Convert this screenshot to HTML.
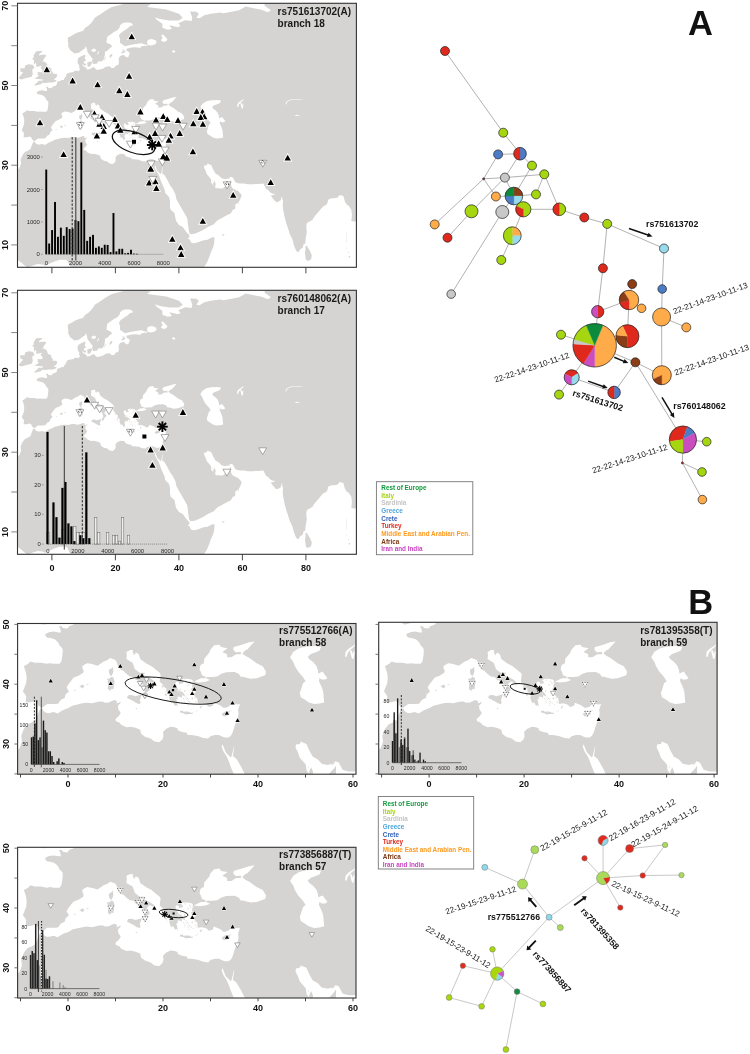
<!DOCTYPE html><html><head><meta charset="utf-8"><style>html,body{margin:0;padding:0;background:#fff}svg{display:block;will-change:transform}text{font-family:"Liberation Sans",sans-serif}</style></head><body>
<svg width="750" height="1054" viewBox="0 0 750 1054">
<rect width="750" height="1054" fill="#fff"/>
<defs><g id="land"><path d="M-7.6 4.3 -8.6 4.8 -9.6 5.5 -10.8 6.3 -11.5 6.9 -12.5 7.4 -13 8 -13.3 8.5 -13.2 9.2 -13.8 9.8 -14.6 10.5 -15.1 11 -15.9 11.6 -16.7 12.3 -16.8 13.4 -17 14.2 -17.5 14.7 -16.9 15.3 -16.5 16.2 -16.1 17.5 -16.1 18.6 -16.5 19.4 -16.2 20.2 -17.05 20.8 -17 21.5 -16.3 23 -15.8 23.9 -14.9 24.7 -14.5 26 -13.6 26.9 -12.9 27.9 -11.5 28.3 -10.2 29.3 -9.7 30.4 -9.85 31.4 -9.3 32.5 -8.5 33.3 -7.6 33.6 -6.8 34 -6.3 35 -5.9 35.8 -5.3 35.9 -5.2 35.5 -4.5 35.2 -3.9 35.2 -3 35.35 -2.2 35.1 -1.2 35.6 -0.6 35.8 0.1 36 0.9 36.4 2 36.6 3 36.8 4 36.9 5.1 36.8 6.3 37.05 7.2 37.1 7.8 36.9 8.6 36.95 9.7 37.35 10.3 37.2 10.25 36.8 10.6 36.85 11.1 37.1 11 36.8 10.5 36.4 10.6 35.8 11.1 35.2 10.7 34.7 10 34.2 10.1 33.8 10.8 33.6 11.2 33.2 12.3 32.8 13.2 32.9 14.2 32.7 15.2 32.4 15.4 31.7 16.2 31.2 17.4 30.9 18.2 30.4 19.2 30.3 19.9 30.8 20.1 31.3 20 32 20.6 32.5 21.6 32.9 22.5 32.8 23.1 32.6 23.1 32.3 24 32 25 31.9 25.2 31.5 26 31.5 27.3 31.35 28.5 31 29.5 30.9 30 31.3 30.9 31.5 31.8 31.5 32.3 31.3 33 31.1 33.8 31.1 34.3 31.4 34.7 32 35 32.8 35.2 33.3 35.5 33.9 35.8 34.5 35.9 35.2 35.8 35.7 36 36.2 36.2 36.7 35.6 36.6 34.6 36.8 33.7 36.2 32.8 36 32 36.5 30.7 36.9 30.5 36.4 29.7 36.2 29.1 36.6 28.2 36.8 27.4 36.7 27.3 37 27.2 37.6 26.3 38.3 26.8 38.6 26.9 39 26.7 39.3 26.1 39.5 26.2 40 26.7 40.4 27.5 40.3 29 40.4 29.9 40.7 29.1 41 29.15 41.2 30.3 41.2 31.4 41.3 32.3 41.75 33.3 42 35.1 42.05 36 41.7 36.3 41.3 37 41.2 38.4 40.9 39.7 41 41.5 41.5 41.7 42.1 41 43 39.7 43.5 38.2 44.4 37.4 44.7 36.7 45.15 37.2 45.6 37.8 45.85 38.2 46.2 39.3 47.15 38.1 47 36.8 46.65 35.7 46.4 34.9 46.2 34.8 45.75 35.3 45.35 36.4 45.4 36.4 45 35.4 45 34.4 44.5 33.5 44.5 33.5 45 32.5 45.4 33.6 46 32.2 46.2 31.9 46.6 30.8 46.5 30 45.8 29.7 45.2 28.7 44.3 28.6 43.5 27.9 43.2 27.7 42.5 28 42 28.2 41.5 29 41.25 28.9 41 28 41 27.4 40.8 26.7 40.5 26.2 40.1 26.3 40.6 26 40.8 25.1 40.9 24.4 40.9 23.8 40.7 24.3 40.2 23.8 40.1 23.4 39.95 23.4 40.3 22.9 40.5 22.6 40.2 22.9 39.4 23.3 39.1 22.9 38.9 23.6 38.5 24 38.2 24 37.7 23.6 37.9 23 37.9 23.2 37.5 22.8 37.5 23.1 36.5 22.5 36.4 22.1 37 21.7 36.8 21.3 37.7 21.4 38.2 21.1 38.4 20.7 38.9 20.7 39.3 20.1 39.6 19.9 40 19.3 40.4 19.4 41 19.5 41.6 19.3 41.9 18.5 42.4 17.6 43 16.4 43.5 15.2 44.2 14.9 45 14.3 45.3 13.9 44.8 13.6 45.5 13.7 45.7 13.1 45.7 12.3 45.4 12.4 44.9 12.3 44.2 13.6 43.6 14.1 42.5 15.1 41.9 16.2 41.9 15.9 41.5 17 41.1 18 40.6 18.5 40.1 18.35 39.8 17.9 40.2 17.2 40.5 16.6 40 16.6 39.6 17.1 39.4 17.2 39 16.6 38.7 16.5 38.3 16.1 37.9 15.65 38 15.8 38.5 16.2 38.8 16.1 39.3 15.7 40 15 40.2 14.8 40.6 14.3 40.7 13.8 41.2 13 41.3 12.2 41.8 11.7 42.2 11.1 42.4 10.5 43 10.3 43.6 10 44.05 8.9 44.4 8.2 44 7.5 43.8 7 43.5 6.2 43.1 5.4 43.3 4.8 43.4 4.1 43.5 3.5 43.3 3 43 3.1 42.5 3.3 42.3 3.2 41.9 2.2 41.4 1.2 41.1 0.8 40.7 0 39.9 -0.3 39.4 0.2 38.8 -0.5 38.3 -0.7 37.7 -1.5 37.4 -2.1 36.75 -2.9 36.7 -4.4 36.7 -5.3 36.15 -5.6 36 -6.3 36.5 -6.4 36.9 -7 37.2 -7.9 37 -8.9 37 -8.8 38 -9.2 38.5 -9.5 38.8 -9.2 39.4 -8.8 40.2 -8.7 41.2 -8.9 42.1 -9.3 43 -8.4 43.4 -7.9 43.8 -7 43.6 -5.7 43.6 -4.5 43.4 -3.8 43.5 -3 43.4 -1.8 43.4 -1.4 43.8 -1.2 44.7 -1.1 45.6 -1.2 46 -1.8 46.5 -2.1 47 -2.5 47.3 -2.8 47.5 -3.5 47.7 -4.4 47.8 -4.7 48 -4.8 48.4 -4 48.7 -3 48.8 -2 48.65 -1.5 48.65 -1.6 49.2 -1.9 49.7 -1.3 49.7 -1.1 49.4 -0.2 49.3 0.1 49.5 0.2 49.7 1.1 49.95 1.6 50.3 1.6 50.9 2.5 51.1 3.2 51.35 3.7 51.4 4 51.9 4.5 52.4 4.7 52.95 5.4 53.2 6.9 53.4 7.1 53.7 8 53.7 8.5 53.6 8.6 53.9 8.9 54.1 8.6 54.4 8.6 55.1 8.1 55.6 8.1 56.6 8.6 57.1 9.9 57.6 10.6 57.7 10.5 57.2 10.3 56.7 10.9 56.4 10.2 56.1 10 55.5 9.5 55.2 9.9 54.8 10.9 54.4 11 54 12.1 54.15 12.5 54.45 13.4 54.6 13.8 54.1 14.3 53.9 16 54.2 17 54.7 18.3 54.8 18.7 54.4 19.6 54.4 20 54.9 21 55.3 21.1 56 21 56.8 21.5 57.4 22.6 57.7 23.2 57.2 24 57 24.4 57.8 24.5 58.3 23.5 58.7 23.5 59.2 24.7 59.5 26 59.6 28 59.5 28.1 59.8 29.1 60 30.2 59.9 29.7 60.2 28.6 60.5 28.3 60.6 27 60.5 25 60.2 23 59.85 22 60.4 21.4 60.8 21.5 61.6 21.1 62.5 21.6 63.1 22.8 63.8 24 64.4 24.6 64.9 25.4 65 25.4 65.5 24.5 65.8 23 65.8 22.2 65.6 21.5 65.1 21.3 64.5 20.5 63.8 19.5 63.4 18.5 62.8 17.5 62.3 17.3 61.6 17.2 60.7 18.5 60.3 19 59.8 18.1 59.3 17.5 58.7 16.7 58.5 16.7 57.7 16.4 56.7 15.9 56.1 14.5 56 14.3 55.5 13 55.4 12.9 55.6 12.6 56.2 12.9 56.6 12 57.5 11.2 58.4 11.1 59 10.7 59.9 10.4 59.3 9.7 58.95 8.5 58.2 7.1 58 5.7 58.9 5.1 59.9 5.2 60.5 5 61.2 5 62 6.2 62.5 7.5 63.1 8.8 63.5 9.8 63.7 10.4 64.4 11.5 65 12.3 65.6 13 66.3 13.5 67 14.5 67.5 15.5 68 16.5 68.6 17.5 69.1 18.9 69.7 20.5 70 22 70.3 23.7 70.7 25.8 71.1 28 71 31 70.3 30 69.7 33 69.4 36 69.1 40 68 41.2 67 40 66.3 37 66.3 34 66.7 32.4 67.1 33 66.5 34.8 65.5 34.8 64.5 36.5 64 37.8 64.2 37 65.1 39.8 64.6 40.5 65 39.8 65.6 42 66.4 44 66.2 44.2 67 43.8 68 43.5 68.6 45.5 68.5 46.3 68 45.5 67 46.5 66.9 48 67.6 50 68 53 68.3 54 68.1 57 68.6 59 68.9 60.5 69.6 61 69.8 64 69.3 66 69 68 68.4 69 68.9 67 70 67 72 100 72 100 13 98.5 10 98.6 12 98.1 14 97.6 16.5 96.9 17.3 96.2 16.4 95.4 15.8 94.3 16 94.5 17.5 94.3 18.8 93.5 19.8 92.9 20.1 92.3 20.8 91.8 22.3 90.6 22.5 90 21.9 89 21.7 88 21.7 87 21.3 86.8 20.5 86.4 20 85.5 19.7 84.9 19.2 84 18.3 83.3 17.7 82.3 16.7 82.2 16.4 81.2 15.9 80.3 15.5 80.1 14.5 80.3 13.2 80 12 79.85 11 79.8 10.3 79.3 10.2 79 9.3 78.2 8.9 77.55 8.08 76.9 8.6 76.2 10 75.8 11.3 74.9 12.8 74.1 14.8 73.8 15.5 73.3 17 72.8 19 72.7 20 72.8 21.1 72.5 21.7 72.6 22.3 72.2 21.8 72.1 21.2 71 20.7 70.4 20.9 69.2 22 69 22.4 70 22.6 70.3 22.95 69.7 22.8 68.7 23.2 68.2 23.7 67.5 24 67 24.8 66.6 25.4 65 25.3 63.5 25.25 61.6 25.2 60.6 25.4 59 25.4 57.8 25.7 57 26.9 56.3 27.1 55.5 26.7 54.7 26.5 53.4 26.7 52.6 27.4 51.5 27.9 50.8 28.9 50.2 30 49 30.4 48.8 30 48 29.9 47.9 29.4 48.4 28.6 48.8 27.7 49.7 26.9 50.1 26.5 50.2 25.6 50.6 25.2 50.8 24.8 50.8 25.5 51.2 26.1 51.6 25.3 51.4 24.6 51.6 24.2 52.6 24.2 53.6 24.1 54.4 24.5 55.3 25.3 56.1 26 56.3 26.3 56.45 26.3 56.4 25 56.8 24.3 58 23.7 58.6 23.6 59.8 22.5 59.3 21.4 58.7 20.6 57.8 20.2 57.7 19 57 18.8 56.3 17.9 55.2 17.5 54.1 17 52.2 16.2 51 15.2 49.1 14.5 47.5 13.7 45 12.8 43.5 12.65 43.2 13.3 42.9 14.8 42.7 16.3 42.5 16.9 41.2 18.7 40 20.3 39.2 21.5 38.9 22.7 38 24.1 37.2 25 36.5 26.1 35.5 27.5 34.7 28 35 29.5 34.9 29.5 34.45 28 34.25 27.75 33.6 28.3 33.2 28.6 32.65 29.7 32.55 29.95 32.35 29.6 32.7 28.8 33.5 27.8 33.8 27.2 34.3 26.1 35 24.8 35.5 23.9 35.7 23 36.9 22 37.2 21 37.2 19.6 37.4 18.8 38.6 18 39.1 16 39.5 15.6 40 15 41.2 14.5 42.4 13.2 43 12.7 43.3 12.4 43.3 11.9 42.7 11.55 43.25 11.5 44 10.45 45 10.4 46.5 10.8 47.5 11.1 49 11.3 50.5 11.9 51.25 11.85 51.1 10.4 50.8 9.4 50 8 49.6 7 48.8 5.5 48 4.5 47 3.3 46 2.4 45.3 2 44 1 42.5 -0.3 42 -2 10 -2 9.7 3.5 8.5 4.5 7.2 4.4 6 4.3 5.4 5.1 4.9 6 4.3 6.3 2.5 6.3 1 5.9 -0.5 5.4 -2.1 4.75 -3 5.1 -4.5 5.2 -6 4.85ZM46.76 44.52 47.44 45.41 48.67 46.03 50.25 46.3 52.04 46.39 53.28 46.21 52.94 45.59 52.04 45.32 51.14 45.05 50.47 44.6 50.81 44.16 51.59 43.71 52.27 43.09 52.6 42.37 52.72 41.75 53.05 41.93 53.61 42.11 54.06 41.57 54.62 41.04 54.18 40.77 53.39 40.77 52.94 41.04 52.83 40.5 53.16 39.97 53.5 39.34 53.73 38.72 53.84 37.65 53.95 36.93 52.94 36.76 51.82 36.67 50.69 36.93 49.91 37.38 49.01 37.83 48.79 38.54 49.12 39.25 49.46 40.14 50.02 40.5 49.46 41.22 48.45 42.11 47.78 43 47.44 43.71ZM58.33 44.6 58.44 45.41 59 45.89 60.13 46.48 60.35 46.66 60.35 46.39 59.45 45.76 58.89 45.23 58.67 44.6ZM59.34 45.59 59.68 45.67 60.01 44.96 60.13 45.5 60.35 45.41 60.13 44.25 59.79 44.25ZM30 60.3 30.9 60.05 32 60.15 32.9 60.6 32.9 61.2 31.5 61.7 30.3 61.5 30 61ZM34.3 61.3 35.2 60.9 36 61.1 36.4 61.6 35.6 62.3 35 62.8 34.4 62.6 34.9 62ZM37.8 58.4 38.6 58.2 38.9 58.6 38.2 58.9ZM73.5 45.3 74 46.05 75.5 46.6 77 46.55 78.5 46.6 79.2 46.4 78.5 46.48 77 46.43 75.6 46.47 74.2 45.95 73.75 45.25ZM76.3 42.45 77.2 42.65 78.2 42.55 77.3 42.35ZM12.4 58.9 13.2 59.3 14 59 13.6 58.5 12.7 58.5ZM14.2 57.8 14.6 58.6 14.9 58.5 14.4 57.8Z" fill="#d5d4d2" fill-rule="evenodd"/><path d="M24.37 38.85 24.55 38.99 24.73 38.85 24.55 38.71ZM24.99 37.6 25.15 37.72 25.31 37.6 25.15 37.48ZM25.28 37.45 25.4 37.54 25.52 37.45 25.4 37.36ZM24.78 37.45 24.9 37.54 25.02 37.45 24.9 37.36ZM24.22 37.62 24.35 37.72 24.48 37.62 24.35 37.52ZM24.3 37.4 24.42 37.49 24.54 37.4 24.42 37.31ZM24.4 37.16 24.5 37.24 24.6 37.16 24.5 37.08ZM24.58 36.97 24.7 37.06 24.82 36.97 24.7 36.88ZM25.17 36.72 25.3 36.82 25.43 36.72 25.3 36.62ZM25.31 36.4 25.43 36.49 25.55 36.4 25.43 36.31ZM25.74 36.83 25.9 36.95 26.06 36.83 25.9 36.71ZM25.94 37.6 26.15 37.76 26.36 37.6 26.15 37.44ZM26.87 37 27 37.1 27.13 37 27 36.9ZM26.22 36.55 26.35 36.65 26.48 36.55 26.35 36.45ZM23.48 39.15 23.65 39.28 23.82 39.15 23.65 39.02ZM25.46 40.45 25.6 40.56 25.74 40.45 25.6 40.34ZM25.68 40.17 25.85 40.3 26.02 40.17 25.85 40.04ZM26.8 35.4 26.9 35.48 27 35.4 26.9 35.32ZM26.75 37.15 26.85 37.23 26.95 37.15 26.85 37.07ZM93.38 7 93.7 7.25 94.03 7 93.7 6.75ZM93.21 8.1 93.4 8.25 93.59 8.1 93.4 7.95ZM92.64 9.2 92.8 9.32 92.96 9.2 92.8 9.08ZM-5.7 50.05 -5 50 -3.5 50.3 -3 50.7 -1.9 50.6 -1 50.75 0.3 50.75 1 50.95 1.4 51.15 1.4 51.4 0.6 51.45 0.9 51.75 1.3 51.9 1.7 52.5 1.6 52.8 1 52.95 0.5 52.95 0.1 52.85 0.35 53.1 0.1 53.55 -0.2 53.7 -0.1 54.1 -0.6 54.5 -1.2 54.65 -1.4 55 -1.6 55.5 -2 55.8 -2.5 56 -3.2 56 -2.7 56.3 -2.5 56.7 -2.1 57.1 -1.8 57.5 -2 57.7 -3.4 57.7 -4.1 57.55 -4 57.9 -3.1 58.4 -3.05 58.65 -5 58.6 -5.3 58.1 -5.8 57.6 -5.7 57 -6.2 56.7 -5.6 56.3 -5.7 55.3 -5 55.7 -4.9 55 -5.1 54.8 -4.4 54.7 -3.6 54.9 -3 54.95 -3.6 54.5 -3.2 54.1 -2.9 53.75 -3.1 53.4 -3.4 53.3 -4.6 53.4 -4.3 52.9 -4.75 52.8 -4.1 52.5 -4.7 52.1 -5.3 51.9 -5.1 51.65 -4.2 51.6 -3 51.5 -2.7 51.5 -3 51.2 -4.2 51.2 -4.5 50.9 -5 50.5ZM-6.4 52.2 -6 52.9 -6.1 53.3 -6.2 54 -5.5 54.4 -5.7 54.8 -6.1 55.2 -7.3 55.35 -8.3 55.1 -8.6 54.6 -8.5 54.3 -10 54.3 -9.9 53.5 -9 53.2 -9.5 52.9 -9.9 52.4 -10.4 52.1 -10.2 51.7 -9.6 51.5 -8.3 51.8 -7 52.1ZM11.1 55.7 11.8 55.95 12.6 56.05 12.6 55.6 12.3 55.2 12 54.7 11.2 54.75 11.2 55.3ZM9.8 55.5 10.4 55.6 10.8 55.3 10.7 55.05 10.1 55.05 9.8 55.2ZM18.15 57 18.2 57.5 18.9 57.95 19.1 57.8 18.8 57.3 18.4 56.95ZM16.4 56.2 16.6 56.8 17.1 57.35 16.9 56.8ZM21.85 58.3 22.1 58.5 22.6 58.65 23.3 58.6 22.9 58.3 22.6 58.2 22.1 58 22 57.95ZM22.1 58.9 22.6 59.1 23.05 58.85 22.6 58.7ZM2.35 39.6 3.1 39.95 3.45 39.7 3.1 39.3 2.7 39.5ZM3.8 40 4.3 40 4.3 39.85 3.85 39.9ZM1.2 38.95 1.55 39.1 1.6 38.95 1.35 38.85ZM8.6 42.4 9.3 42.7 9.4 43 9.5 42.6 9.55 42.1 9.3 41.6 9.2 41.37 8.8 41.55 8.6 42ZM8.15 40.9 8.4 40.6 8.45 39.9 8.4 39.2 8.85 38.88 9.1 39.2 9.55 39.15 9.7 39.9 9.8 40.5 9.55 41.1 9.2 41.25 8.6 40.9 8.3 40.95ZM12.43 37.8 12.7 38.15 13.35 38.2 14.2 38 15.55 38.3 15.25 37.6 15.1 37.3 15.3 37 15.1 36.65 14.5 36.8 13.9 37.1 13 37.5 12.6 37.6ZM14.2 36.05 14.5 36 14.55 35.82 14.35 35.85ZM23.55 35.6 23.6 35.25 24.3 35.15 24.75 34.93 25.5 35 26.2 35.02 26.3 35.25 25.75 35.2 25.7 35.35 25 35.42 24.3 35.38 24.1 35.6 23.75 35.5ZM32.3 35.05 32.7 34.65 33.05 34.6 33.6 34.8 34.05 35 33.95 35.3 34.58 35.68 33.7 35.4 32.95 35.4 32.6 35.15ZM27.7 36.15 28.2 36.45 28.25 36.3 27.85 35.9ZM27.1 35.45 27.2 35.85 27.25 35.5ZM23 39 23.4 38.95 24.2 38.6 24.6 38.15 24.55 37.95 24.1 38.15 23.7 38.4 23.3 38.7ZM25.85 39.2 26.2 39.4 26.6 39.3 26.55 39 26.1 39ZM25.9 38.55 26.15 38.55 26.15 38.25 25.95 38.2ZM26.6 37.8 27.05 37.78 26.95 37.65 26.6 37.68ZM26.95 36.75 27.35 36.9 27.3 36.8ZM25.05 39.85 25.45 40 25.4 39.8 25.1 39.8ZM24.55 40.75 24.75 40.78 24.75 40.6 24.6 40.6ZM25.35 37.1 25.6 37.2 25.6 36.95 25.4 36.95ZM24.7 37.98 24.95 37.85 24.95 37.7 24.75 37.85ZM25.1 37.15 25.27 37.1 25.2 36.98ZM24.35 36.75 24.55 36.75 24.5 36.65ZM22.9 36.35 23.1 36.3 23 36.13ZM20.35 38.2 20.55 38.47 20.8 38.3 20.75 38.07 20.5 38.1ZM20.63 37.85 20.95 37.75 20.85 37.65ZM19.65 39.75 19.9 39.8 20.1 39.45 19.9 39.42ZM20.55 38.83 20.72 38.83 20.7 38.6 20.55 38.6ZM79.85 9.8 80.3 9.75 81.2 8.6 81.85 7.4 81.65 6.4 80.6 5.93 80 6.3 79.7 8 79.9 9ZM53.35 12.55 54 12.7 54.5 12.55 54 12.32ZM50.45 26.2 50.65 26.2 50.6 25.85ZM55.3 26.65 56.2 27 56.25 26.9 55.7 26.55ZM92.72 10.6 92.82 10.6 92.92 12 92.88 13.4 92.8 13.4 92.82 12ZM58.6 20.2 58.95 20.65 58.8 20.2Z" fill="#d5d4d2"/></g></defs>
<clipPath id="c1"><rect x="17.5" y="3.3" width="338.9" height="264.0"/></clipPath>
<g clip-path="url(#c1)">
<use href="#land" transform="matrix(3.1750 0 0 -3.9850 51.900 284.750)"/>
</g>
<rect x="45.30" y="169.57" width="1.90" height="84.73" fill="#000"/><rect x="48.22" y="243.51" width="1.90" height="10.79" fill="#000"/><rect x="51.14" y="230.06" width="1.90" height="24.24" fill="#000"/><rect x="54.07" y="201.97" width="1.90" height="52.33" fill="#000"/><rect x="56.99" y="236.80" width="1.90" height="17.50" fill="#000"/><rect x="59.91" y="227.67" width="1.90" height="26.63" fill="#000"/><rect x="62.83" y="235.83" width="1.90" height="18.47" fill="#000"/><rect x="65.76" y="227.18" width="1.90" height="27.12" fill="#000"/><rect x="68.68" y="229.09" width="1.90" height="25.21" fill="#000"/><rect x="71.60" y="228.61" width="1.90" height="25.69" fill="#000"/><rect x="74.52" y="219.99" width="1.90" height="34.31" fill="#000"/><rect x="77.45" y="221.19" width="1.90" height="33.11" fill="#000"/><rect x="80.37" y="142.46" width="1.90" height="111.84" fill="#000"/><rect x="83.29" y="209.91" width="1.90" height="44.39" fill="#000"/><rect x="86.22" y="240.85" width="1.90" height="13.45" fill="#000"/><rect x="89.14" y="236.80" width="1.90" height="17.50" fill="#000"/><rect x="92.06" y="234.86" width="1.90" height="19.44" fill="#000"/><rect x="94.98" y="247.82" width="1.90" height="6.48" fill="#000"/><rect x="97.91" y="246.39" width="1.90" height="7.91" fill="#000"/><rect x="100.83" y="247.82" width="1.90" height="6.48" fill="#000"/><rect x="103.75" y="244.71" width="1.90" height="9.59" fill="#000"/><rect x="106.67" y="244.94" width="1.90" height="9.36" fill="#000"/><rect x="109.59" y="252.13" width="1.90" height="2.17" fill="#000"/><rect x="112.52" y="213.02" width="1.90" height="41.28" fill="#000"/><rect x="115.44" y="251.42" width="1.90" height="2.88" fill="#000"/><rect x="118.36" y="248.79" width="1.90" height="5.51" fill="#000"/><rect x="121.28" y="248.79" width="1.90" height="5.51" fill="#000"/><rect x="124.21" y="253.33" width="1.90" height="0.97" fill="#000"/><rect x="127.13" y="252.87" width="1.90" height="1.43" fill="#000"/><rect x="130.05" y="249.76" width="1.90" height="4.54" fill="#000"/><rect x="132.97" y="253.65" width="1.90" height="0.65" fill="#000"/><rect x="135.90" y="253.81" width="1.90" height="0.49" fill="#000"/><line x1="72.2" y1="137.2" x2="72.2" y2="260.5" stroke="#222" stroke-width="1.0" stroke-dasharray="2.3 1.6"/><line x1="75.8" y1="137.2" x2="75.8" y2="260.5" stroke="#444" stroke-width="1.1"/><line x1="46.3" y1="254.3" x2="163.2" y2="254.3" stroke="#555" stroke-width="0.5" stroke-dasharray="1.2 0.8"/><text x="46.3" y="265.4" font-size="5.90"  fill="#2a2a2a" text-anchor="middle" >0</text><text x="75.5" y="265.4" font-size="5.90"  fill="#2a2a2a" text-anchor="middle" >2000</text><text x="104.8" y="265.4" font-size="5.90"  fill="#2a2a2a" text-anchor="middle" >4000</text><text x="134.0" y="265.4" font-size="5.90"  fill="#2a2a2a" text-anchor="middle" >6000</text><text x="163.2" y="265.4" font-size="5.90"  fill="#2a2a2a" text-anchor="middle" >8000</text><text x="39.8" y="159.2" font-size="5.90"  fill="#2a2a2a" text-anchor="end" >3000</text><line x1="41.0" y1="157.1" x2="42.8" y2="157.1" stroke="#777" stroke-width="0.6"/><text x="39.8" y="191.6" font-size="5.90"  fill="#2a2a2a" text-anchor="end" >2000</text><line x1="41.0" y1="189.5" x2="42.8" y2="189.5" stroke="#777" stroke-width="0.6"/><text x="39.8" y="224.0" font-size="5.90"  fill="#2a2a2a" text-anchor="end" >1000</text><line x1="41.0" y1="221.9" x2="42.8" y2="221.9" stroke="#777" stroke-width="0.6"/><text x="39.8" y="256.4" font-size="5.90"  fill="#2a2a2a" text-anchor="end" >0</text><line x1="41.0" y1="254.3" x2="42.8" y2="254.3" stroke="#777" stroke-width="0.6"/>
<polygon points="40.0,119.5 36.8,125.3 43.2,125.3" fill="#fff" stroke="#fff" stroke-width="1.8" stroke-linejoin="miter"/><polygon points="40.0,119.5 36.8,125.3 43.2,125.3" fill="#000"/><polygon points="94.4,110.6 91.2,116.4 97.6,116.4" fill="#fff" stroke="#fff" stroke-width="1.8" stroke-linejoin="miter"/><polygon points="94.4,110.6 91.2,116.4 97.6,116.4" fill="#000"/><polygon points="119.3,87.4 116.1,93.2 122.5,93.2" fill="#fff" stroke="#fff" stroke-width="1.8" stroke-linejoin="miter"/><polygon points="119.3,87.4 116.1,93.2 122.5,93.2" fill="#000"/><polygon points="127.4,91.1 124.2,96.9 130.6,96.9" fill="#fff" stroke="#fff" stroke-width="1.8" stroke-linejoin="miter"/><polygon points="127.4,91.1 124.2,96.9 130.6,96.9" fill="#000"/><polygon points="80.3,103.9 77.1,109.7 83.5,109.7" fill="#fff" stroke="#fff" stroke-width="1.8" stroke-linejoin="miter"/><polygon points="80.3,103.9 77.1,109.7 83.5,109.7" fill="#000"/><polygon points="140.4,108.6 137.2,114.4 143.6,114.4" fill="#fff" stroke="#fff" stroke-width="1.8" stroke-linejoin="miter"/><polygon points="140.4,108.6 137.2,114.4 143.6,114.4" fill="#000"/><polygon points="102.0,114.1 98.8,119.9 105.2,119.9" fill="#fff" stroke="#fff" stroke-width="1.8" stroke-linejoin="miter"/><polygon points="102.0,114.1 98.8,119.9 105.2,119.9" fill="#000"/><polygon points="114.8,116.2 111.6,122.0 118.0,122.0" fill="#fff" stroke="#fff" stroke-width="1.8" stroke-linejoin="miter"/><polygon points="114.8,116.2 111.6,122.0 118.0,122.0" fill="#000"/><polygon points="118.0,122.6 114.8,128.4 121.2,128.4" fill="#fff" stroke="#fff" stroke-width="1.8" stroke-linejoin="miter"/><polygon points="118.0,122.6 114.8,128.4 121.2,128.4" fill="#000"/><polygon points="120.4,126.9 117.2,132.7 123.6,132.7" fill="#fff" stroke="#fff" stroke-width="1.8" stroke-linejoin="miter"/><polygon points="120.4,126.9 117.2,132.7 123.6,132.7" fill="#000"/><polygon points="103.7,123.1 100.5,128.9 106.9,128.9" fill="#fff" stroke="#fff" stroke-width="1.8" stroke-linejoin="miter"/><polygon points="103.7,123.1 100.5,128.9 106.9,128.9" fill="#000"/><polygon points="103.7,128.0 100.5,133.8 106.9,133.8" fill="#fff" stroke="#fff" stroke-width="1.8" stroke-linejoin="miter"/><polygon points="103.7,128.0 100.5,133.8 106.9,133.8" fill="#000"/><polygon points="96.9,132.7 93.7,138.5 100.1,138.5" fill="#fff" stroke="#fff" stroke-width="1.8" stroke-linejoin="miter"/><polygon points="96.9,132.7 93.7,138.5 100.1,138.5" fill="#000"/><polygon points="99.5,120.9 96.3,126.7 102.7,126.7" fill="#fff" stroke="#fff" stroke-width="1.8" stroke-linejoin="miter"/><polygon points="99.5,120.9 96.3,126.7 102.7,126.7" fill="#000"/><polygon points="134.7,128.4 131.5,134.2 137.9,134.2" fill="#fff" stroke="#fff" stroke-width="1.8" stroke-linejoin="miter"/><polygon points="134.7,128.4 131.5,134.2 137.9,134.2" fill="#000"/><polygon points="156.0,116.7 152.8,122.5 159.2,122.5" fill="#fff" stroke="#fff" stroke-width="1.8" stroke-linejoin="miter"/><polygon points="156.0,116.7 152.8,122.5 159.2,122.5" fill="#000"/><polygon points="163.3,113.3 160.1,119.1 166.5,119.1" fill="#fff" stroke="#fff" stroke-width="1.8" stroke-linejoin="miter"/><polygon points="163.3,113.3 160.1,119.1 166.5,119.1" fill="#000"/><polygon points="167.3,116.2 164.1,122.0 170.5,122.0" fill="#fff" stroke="#fff" stroke-width="1.8" stroke-linejoin="miter"/><polygon points="167.3,116.2 164.1,122.0 170.5,122.0" fill="#000"/><polygon points="178.0,117.3 174.8,123.1 181.2,123.1" fill="#fff" stroke="#fff" stroke-width="1.8" stroke-linejoin="miter"/><polygon points="178.0,117.3 174.8,123.1 181.2,123.1" fill="#000"/><polygon points="196.7,108.1 193.5,113.9 199.9,113.9" fill="#fff" stroke="#fff" stroke-width="1.8" stroke-linejoin="miter"/><polygon points="196.7,108.1 193.5,113.9 199.9,113.9" fill="#000"/><polygon points="202.5,108.8 199.3,114.6 205.7,114.6" fill="#fff" stroke="#fff" stroke-width="1.8" stroke-linejoin="miter"/><polygon points="202.5,108.8 199.3,114.6 205.7,114.6" fill="#000"/><polygon points="204.2,113.5 201.0,119.3 207.4,119.3" fill="#fff" stroke="#fff" stroke-width="1.8" stroke-linejoin="miter"/><polygon points="204.2,113.5 201.0,119.3 207.4,119.3" fill="#000"/><polygon points="200.8,114.1 197.6,119.9 204.0,119.9" fill="#fff" stroke="#fff" stroke-width="1.8" stroke-linejoin="miter"/><polygon points="200.8,114.1 197.6,119.9 204.0,119.9" fill="#000"/><polygon points="193.3,120.5 190.1,126.3 196.5,126.3" fill="#fff" stroke="#fff" stroke-width="1.8" stroke-linejoin="miter"/><polygon points="193.3,120.5 190.1,126.3 196.5,126.3" fill="#000"/><polygon points="202.9,120.9 199.7,126.7 206.1,126.7" fill="#fff" stroke="#fff" stroke-width="1.8" stroke-linejoin="miter"/><polygon points="202.9,120.9 199.7,126.7 206.1,126.7" fill="#000"/><polygon points="179.7,130.1 176.5,135.9 182.9,135.9" fill="#fff" stroke="#fff" stroke-width="1.8" stroke-linejoin="miter"/><polygon points="179.7,130.1 176.5,135.9 182.9,135.9" fill="#000"/><polygon points="155.1,130.1 151.9,135.9 158.3,135.9" fill="#fff" stroke="#fff" stroke-width="1.8" stroke-linejoin="miter"/><polygon points="155.1,130.1 151.9,135.9 158.3,135.9" fill="#000"/><polygon points="149.6,133.7 146.4,139.5 152.8,139.5" fill="#fff" stroke="#fff" stroke-width="1.8" stroke-linejoin="miter"/><polygon points="149.6,133.7 146.4,139.5 152.8,139.5" fill="#000"/><polygon points="170.5,132.7 167.3,138.5 173.7,138.5" fill="#fff" stroke="#fff" stroke-width="1.8" stroke-linejoin="miter"/><polygon points="170.5,132.7 167.3,138.5 173.7,138.5" fill="#000"/><polygon points="168.8,136.9 165.6,142.7 172.0,142.7" fill="#fff" stroke="#fff" stroke-width="1.8" stroke-linejoin="miter"/><polygon points="168.8,136.9 165.6,142.7 172.0,142.7" fill="#000"/><polygon points="158.6,140.6 155.4,146.4 161.8,146.4" fill="#fff" stroke="#fff" stroke-width="1.8" stroke-linejoin="miter"/><polygon points="158.6,140.6 155.4,146.4 161.8,146.4" fill="#000"/><polygon points="192.9,148.5 189.7,154.3 196.1,154.3" fill="#fff" stroke="#fff" stroke-width="1.8" stroke-linejoin="miter"/><polygon points="192.9,148.5 189.7,154.3 196.1,154.3" fill="#000"/><polygon points="63.6,151.2 60.4,157.0 66.8,157.0" fill="#fff" stroke="#fff" stroke-width="1.8" stroke-linejoin="miter"/><polygon points="63.6,151.2 60.4,157.0 66.8,157.0" fill="#000"/><polygon points="163.3,153.4 160.1,159.2 166.5,159.2" fill="#fff" stroke="#fff" stroke-width="1.8" stroke-linejoin="miter"/><polygon points="163.3,153.4 160.1,159.2 166.5,159.2" fill="#000"/><polygon points="166.7,154.6 163.5,160.4 169.9,160.4" fill="#fff" stroke="#fff" stroke-width="1.8" stroke-linejoin="miter"/><polygon points="166.7,154.6 163.5,160.4 169.9,160.4" fill="#000"/><polygon points="150.7,165.7 147.5,171.5 153.9,171.5" fill="#fff" stroke="#fff" stroke-width="1.8" stroke-linejoin="miter"/><polygon points="150.7,165.7 147.5,171.5 153.9,171.5" fill="#000"/><polygon points="149.2,179.6 146.0,185.4 152.4,185.4" fill="#fff" stroke="#fff" stroke-width="1.8" stroke-linejoin="miter"/><polygon points="149.2,179.6 146.0,185.4 152.4,185.4" fill="#000"/><polygon points="155.4,178.5 152.2,184.3 158.6,184.3" fill="#fff" stroke="#fff" stroke-width="1.8" stroke-linejoin="miter"/><polygon points="155.4,178.5 152.2,184.3 158.6,184.3" fill="#000"/><polygon points="156.4,185.1 153.2,190.9 159.6,190.9" fill="#fff" stroke="#fff" stroke-width="1.8" stroke-linejoin="miter"/><polygon points="156.4,185.1 153.2,190.9 159.6,190.9" fill="#000"/><polygon points="131.7,33.4 128.5,39.2 134.9,39.2" fill="#fff" stroke="#fff" stroke-width="1.8" stroke-linejoin="miter"/><polygon points="131.7,33.4 128.5,39.2 134.9,39.2" fill="#000"/><polygon points="46.8,66.5 43.6,72.3 50.0,72.3" fill="#fff" stroke="#fff" stroke-width="1.8" stroke-linejoin="miter"/><polygon points="46.8,66.5 43.6,72.3 50.0,72.3" fill="#000"/><polygon points="72.6,77.6 69.4,83.4 75.8,83.4" fill="#fff" stroke="#fff" stroke-width="1.8" stroke-linejoin="miter"/><polygon points="72.6,77.6 69.4,83.4 75.8,83.4" fill="#000"/><polygon points="97.6,81.4 94.4,87.2 100.8,87.2" fill="#fff" stroke="#fff" stroke-width="1.8" stroke-linejoin="miter"/><polygon points="97.6,81.4 94.4,87.2 100.8,87.2" fill="#000"/><polygon points="129.1,72.9 125.9,78.7 132.3,78.7" fill="#fff" stroke="#fff" stroke-width="1.8" stroke-linejoin="miter"/><polygon points="129.1,72.9 125.9,78.7 132.3,78.7" fill="#000"/><polygon points="287.7,154.7 284.5,160.5 290.9,160.5" fill="#fff" stroke="#fff" stroke-width="1.8" stroke-linejoin="miter"/><polygon points="287.7,154.7 284.5,160.5 290.9,160.5" fill="#000"/><polygon points="270.7,179.2 267.5,185.0 273.9,185.0" fill="#fff" stroke="#fff" stroke-width="1.8" stroke-linejoin="miter"/><polygon points="270.7,179.2 267.5,185.0 273.9,185.0" fill="#000"/><polygon points="233.2,191.9 230.0,197.7 236.4,197.7" fill="#fff" stroke="#fff" stroke-width="1.8" stroke-linejoin="miter"/><polygon points="233.2,191.9 230.0,197.7 236.4,197.7" fill="#000"/><polygon points="202.8,218.0 199.6,223.8 206.0,223.8" fill="#fff" stroke="#fff" stroke-width="1.8" stroke-linejoin="miter"/><polygon points="202.8,218.0 199.6,223.8 206.0,223.8" fill="#000"/><polygon points="172.3,236.0 169.1,241.8 175.5,241.8" fill="#fff" stroke="#fff" stroke-width="1.8" stroke-linejoin="miter"/><polygon points="172.3,236.0 169.1,241.8 175.5,241.8" fill="#000"/><polygon points="180.5,244.4 177.3,250.2 183.7,250.2" fill="#fff" stroke="#fff" stroke-width="1.8" stroke-linejoin="miter"/><polygon points="180.5,244.4 177.3,250.2 183.7,250.2" fill="#000"/><polygon points="181.2,251.1 178.0,256.9 184.4,256.9" fill="#fff" stroke="#fff" stroke-width="1.8" stroke-linejoin="miter"/><polygon points="181.2,251.1 178.0,256.9 184.4,256.9" fill="#000"/><polygon points="87.3,118.2 83.3,111.3 91.3,111.3" fill="#fff" stroke="#8a8a8a" stroke-width="0.7"/><polygon points="80.3,129.5 76.3,122.6 84.3,122.6" fill="#fff" stroke="#8a8a8a" stroke-width="0.7"/><polygon points="80.3,122.3 78.3,125.2 82.3,125.2" fill="none" stroke="#111" stroke-width="0.9" stroke-dasharray="0.8 1.36" stroke-linecap="butt"/><polygon points="95.2,121.6 91.2,114.7 99.2,114.7" fill="#fff" stroke="#8a8a8a" stroke-width="0.7"/><polygon points="99.0,125.2 95.0,118.3 103.0,118.3" fill="#fff" stroke="#8a8a8a" stroke-width="0.7"/><polygon points="109.1,127.4 105.1,120.5 113.1,120.5" fill="#fff" stroke="#8a8a8a" stroke-width="0.7"/><polygon points="135.7,133.3 131.7,126.4 139.7,126.4" fill="#fff" stroke="#8a8a8a" stroke-width="0.7"/><polygon points="156.0,130.1 152.0,123.2 160.0,123.2" fill="#fff" stroke="#8a8a8a" stroke-width="0.7"/><polygon points="162.6,131.0 158.6,124.1 166.6,124.1" fill="#fff" stroke="#8a8a8a" stroke-width="0.7"/><polygon points="183.1,130.1 179.1,123.2 187.1,123.2" fill="#fff" stroke="#8a8a8a" stroke-width="0.7"/><polygon points="162.0,142.3 158.0,135.4 166.0,135.4" fill="#fff" stroke="#8a8a8a" stroke-width="0.7"/><polygon points="130.4,148.1 126.4,141.2 134.4,141.2" fill="#fff" stroke="#8a8a8a" stroke-width="0.7"/><polygon points="165.2,154.0 161.2,147.1 169.2,147.1" fill="#fff" stroke="#8a8a8a" stroke-width="0.7"/><polygon points="162.4,165.8 158.4,158.9 166.4,158.9" fill="#fff" stroke="#8a8a8a" stroke-width="0.7"/><polygon points="151.1,167.9 147.1,161.0 155.1,161.0" fill="#fff" stroke="#8a8a8a" stroke-width="0.7"/><polygon points="152.8,183.3 148.8,176.4 156.8,176.4" fill="#fff" stroke="#8a8a8a" stroke-width="0.7"/><polygon points="262.8,167.2 258.8,160.3 266.8,160.3" fill="#fff" stroke="#8a8a8a" stroke-width="0.7"/><polygon points="262.8,160.0 260.8,162.9 264.8,162.9" fill="none" stroke="#111" stroke-width="0.9" stroke-dasharray="0.8 1.36" stroke-linecap="butt"/><polygon points="227.1,188.8 223.1,181.9 231.1,181.9" fill="#fff" stroke="#8a8a8a" stroke-width="0.7"/><polygon points="227.1,181.6 225.1,184.5 229.1,184.5" fill="none" stroke="#111" stroke-width="0.9" stroke-dasharray="0.8 1.36" stroke-linecap="butt"/><polygon points="163.3,153.4 160.1,159.2 166.5,159.2" fill="#000"/><polygon points="166.7,154.6 163.5,160.4 169.9,160.4" fill="#000"/><polygon points="150.7,165.7 147.5,171.5 153.9,171.5" fill="#000"/><polygon points="158.6,140.6 155.4,146.4 161.8,146.4" fill="#000"/><rect x="132.0" y="139.8" width="4.0" height="4.0" fill="#000"/><ellipse cx="133.6" cy="142.3" rx="22.3" ry="10.3" transform="rotate(19.5 133.6 142.3)" fill="none" stroke="#111" stroke-width="1.3"/><line x1="146.9" y1="145.0" x2="157.5" y2="145.0" stroke="#000" stroke-width="1.9"/><line x1="148.5" y1="141.3" x2="155.9" y2="148.7" stroke="#000" stroke-width="1.9"/><line x1="152.2" y1="139.7" x2="152.2" y2="150.3" stroke="#000" stroke-width="1.9"/><line x1="155.9" y1="141.3" x2="148.5" y2="148.7" stroke="#000" stroke-width="1.9"/>
<rect x="17.5" y="3.3" width="338.9" height="264.0" fill="none" stroke="#333" stroke-width="1.1"/>
<line x1="51.9" y1="267.3" x2="51.9" y2="273.3" stroke="#333" stroke-width="0.9"/>
<line x1="115.4" y1="267.3" x2="115.4" y2="273.3" stroke="#333" stroke-width="0.9"/>
<line x1="178.9" y1="267.3" x2="178.9" y2="273.3" stroke="#333" stroke-width="0.9"/>
<line x1="242.4" y1="267.3" x2="242.4" y2="273.3" stroke="#333" stroke-width="0.9"/>
<line x1="305.9" y1="267.3" x2="305.9" y2="273.3" stroke="#333" stroke-width="0.9"/>
<line x1="11.3" y1="244.9" x2="17.5" y2="244.9" stroke="#666" stroke-width="0.8"/>
<line x1="11.3" y1="205.1" x2="17.5" y2="205.1" stroke="#666" stroke-width="0.8"/>
<line x1="11.3" y1="165.2" x2="17.5" y2="165.2" stroke="#666" stroke-width="0.8"/>
<line x1="11.3" y1="125.4" x2="17.5" y2="125.4" stroke="#666" stroke-width="0.8"/>
<line x1="11.3" y1="85.5" x2="17.5" y2="85.5" stroke="#666" stroke-width="0.8"/>
<line x1="11.3" y1="45.7" x2="17.5" y2="45.7" stroke="#666" stroke-width="0.8"/>
<line x1="11.3" y1="5.8" x2="17.5" y2="5.8" stroke="#666" stroke-width="0.8"/>
<text x="8.3" y="244.9" font-size="9.00" font-weight="bold" fill="#111" text-anchor="middle" transform="rotate(-90.0 8.3 244.9)" >10</text>
<text x="8.3" y="165.2" font-size="9.00" font-weight="bold" fill="#111" text-anchor="middle" transform="rotate(-90.0 8.3 165.2)" >30</text>
<text x="8.3" y="85.5" font-size="9.00" font-weight="bold" fill="#111" text-anchor="middle" transform="rotate(-90.0 8.3 85.5)" >50</text>
<text x="8.3" y="5.8" font-size="9.00" font-weight="bold" fill="#111" text-anchor="middle" transform="rotate(-90.0 8.3 5.8)" >70</text>
<text x="277.6" y="15.2" font-size="10.00" font-weight="bold" fill="#1a1a1a" text-anchor="start" >rs751613702(A)</text>
<text x="277.6" y="27.2" font-size="10.00" font-weight="bold" fill="#1a1a1a" text-anchor="start" >branch 18</text>
<clipPath id="c2"><rect x="17.5" y="290.3" width="338.9" height="264.0"/></clipPath>
<g clip-path="url(#c2)">
<use href="#land" transform="matrix(3.1750 0 0 -3.9850 51.900 571.750)"/>
</g>
<rect x="46.80" y="532.26" width="2.30" height="11.84" fill="#eee" stroke="#666" stroke-width="0.5"/><rect x="61.74" y="529.30" width="2.30" height="14.80" fill="#eee" stroke="#666" stroke-width="0.5"/><rect x="73.69" y="526.34" width="2.30" height="17.76" fill="#eee" stroke="#666" stroke-width="0.5"/><rect x="76.67" y="532.26" width="2.30" height="11.84" fill="#eee" stroke="#666" stroke-width="0.5"/><rect x="79.66" y="532.26" width="2.30" height="11.84" fill="#eee" stroke="#666" stroke-width="0.5"/><rect x="82.65" y="532.26" width="2.30" height="11.84" fill="#eee" stroke="#666" stroke-width="0.5"/><rect x="94.60" y="517.46" width="2.30" height="26.64" fill="#eee" stroke="#666" stroke-width="0.5"/><rect x="97.59" y="532.26" width="2.30" height="11.84" fill="#eee" stroke="#666" stroke-width="0.5"/><rect x="106.55" y="532.26" width="2.30" height="11.84" fill="#eee" stroke="#666" stroke-width="0.5"/><rect x="112.52" y="535.22" width="2.30" height="8.88" fill="#eee" stroke="#666" stroke-width="0.5"/><rect x="115.51" y="535.22" width="2.30" height="8.88" fill="#eee" stroke="#666" stroke-width="0.5"/><rect x="118.50" y="541.14" width="2.30" height="2.96" fill="#eee" stroke="#666" stroke-width="0.5"/><rect x="121.49" y="517.46" width="2.30" height="26.64" fill="#eee" stroke="#666" stroke-width="0.5"/><rect x="127.46" y="535.22" width="2.30" height="8.88" fill="#eee" stroke="#666" stroke-width="0.5"/><rect x="46.40" y="431.92" width="2.20" height="112.18" fill="#000"/><rect x="52.38" y="502.36" width="2.20" height="41.74" fill="#000"/><rect x="55.36" y="517.16" width="2.20" height="26.94" fill="#000"/><rect x="58.35" y="537.59" width="2.20" height="6.51" fill="#000"/><rect x="61.34" y="487.86" width="2.20" height="56.24" fill="#000"/><rect x="64.32" y="481.94" width="2.20" height="62.16" fill="#000"/><rect x="67.31" y="523.38" width="2.20" height="20.72" fill="#000"/><rect x="70.30" y="526.34" width="2.20" height="17.76" fill="#000"/><rect x="73.29" y="541.14" width="2.20" height="2.96" fill="#000"/><rect x="79.26" y="535.22" width="2.20" height="8.88" fill="#000"/><rect x="82.25" y="538.18" width="2.20" height="5.92" fill="#000"/><rect x="85.24" y="452.34" width="2.20" height="91.76" fill="#000"/><rect x="88.22" y="538.18" width="2.20" height="5.92" fill="#000"/><line x1="64.3" y1="426" x2="64.3" y2="549.6" stroke="#222" stroke-width="0.9"/><line x1="82.3" y1="426" x2="82.3" y2="544" stroke="#222" stroke-width="1.0" stroke-dasharray="2.3 1.6"/><line x1="48.0" y1="544.1" x2="167.5" y2="544.1" stroke="#555" stroke-width="0.5" stroke-dasharray="1.2 0.8"/><text x="48.0" y="552.8" font-size="5.90"  fill="#2a2a2a" text-anchor="middle" >0</text><text x="77.9" y="552.8" font-size="5.90"  fill="#2a2a2a" text-anchor="middle" >2000</text><text x="107.8" y="552.8" font-size="5.90"  fill="#2a2a2a" text-anchor="middle" >4000</text><text x="137.6" y="552.8" font-size="5.90"  fill="#2a2a2a" text-anchor="middle" >6000</text><text x="167.5" y="552.8" font-size="5.90"  fill="#2a2a2a" text-anchor="middle" >8000</text><text x="40.8" y="457.4" font-size="5.90"  fill="#2a2a2a" text-anchor="end" >30</text><line x1="42.0" y1="455.3" x2="43.8" y2="455.3" stroke="#777" stroke-width="0.6"/><text x="40.8" y="486.9" font-size="5.90"  fill="#2a2a2a" text-anchor="end" >20</text><line x1="42.0" y1="484.8" x2="43.8" y2="484.8" stroke="#777" stroke-width="0.6"/><text x="40.8" y="516.4" font-size="5.90"  fill="#2a2a2a" text-anchor="end" >10</text><line x1="42.0" y1="514.3" x2="43.8" y2="514.3" stroke="#777" stroke-width="0.6"/><text x="40.8" y="546.2" font-size="5.90"  fill="#2a2a2a" text-anchor="end" >0</text><line x1="42.0" y1="544.1" x2="43.8" y2="544.1" stroke="#777" stroke-width="0.6"/>
<polygon points="87.0,396.7 83.8,402.5 90.2,402.5" fill="#fff" stroke="#fff" stroke-width="1.8" stroke-linejoin="miter"/><polygon points="87.0,396.7 83.8,402.5 90.2,402.5" fill="#000"/><polygon points="135.7,412.0 132.5,417.8 138.9,417.8" fill="#fff" stroke="#fff" stroke-width="1.8" stroke-linejoin="miter"/><polygon points="135.7,412.0 132.5,417.8 138.9,417.8" fill="#000"/><polygon points="182.9,409.1 179.7,414.9 186.1,414.9" fill="#fff" stroke="#fff" stroke-width="1.8" stroke-linejoin="miter"/><polygon points="182.9,409.1 179.7,414.9 186.1,414.9" fill="#000"/><polygon points="150.6,446.6 147.4,452.4 153.8,452.4" fill="#fff" stroke="#fff" stroke-width="1.8" stroke-linejoin="miter"/><polygon points="150.6,446.6 147.4,452.4 153.8,452.4" fill="#000"/><polygon points="162.7,444.6 159.5,450.4 165.9,450.4" fill="#fff" stroke="#fff" stroke-width="1.8" stroke-linejoin="miter"/><polygon points="162.7,444.6 159.5,450.4 165.9,450.4" fill="#000"/><polygon points="152.4,461.9 149.2,467.7 155.6,467.7" fill="#fff" stroke="#fff" stroke-width="1.8" stroke-linejoin="miter"/><polygon points="152.4,461.9 149.2,467.7 155.6,467.7" fill="#000"/><polygon points="79.9,416.6 75.9,409.7 83.9,409.7" fill="#fff" stroke="#8a8a8a" stroke-width="0.7"/><polygon points="79.9,409.4 77.9,412.3 81.9,412.3" fill="none" stroke="#111" stroke-width="0.9" stroke-dasharray="0.8 1.36" stroke-linecap="butt"/><polygon points="94.6,409.2 90.6,402.3 98.6,402.3" fill="#fff" stroke="#8a8a8a" stroke-width="0.7"/><polygon points="99.6,412.8 95.6,405.9 103.6,405.9" fill="#fff" stroke="#8a8a8a" stroke-width="0.7"/><polygon points="109.0,414.5 105.0,407.6 113.0,407.6" fill="#fff" stroke="#8a8a8a" stroke-width="0.7"/><polygon points="130.4,436.2 126.4,429.3 134.4,429.3" fill="#fff" stroke="#8a8a8a" stroke-width="0.7"/><polygon points="130.4,429.0 128.4,431.9 132.4,431.9" fill="none" stroke="#111" stroke-width="0.9" stroke-dasharray="0.8 1.36" stroke-linecap="butt"/><polygon points="155.6,418.0 151.6,411.1 159.6,411.1" fill="#fff" stroke="#8a8a8a" stroke-width="0.7"/><polygon points="162.4,418.0 158.4,411.1 166.4,411.1" fill="#fff" stroke="#8a8a8a" stroke-width="0.7"/><polygon points="165.0,441.5 161.0,434.6 169.0,434.6" fill="#fff" stroke="#8a8a8a" stroke-width="0.7"/><polygon points="262.7,454.7 258.7,447.8 266.7,447.8" fill="#fff" stroke="#8a8a8a" stroke-width="0.7"/><polygon points="226.9,476.1 222.9,469.2 230.9,469.2" fill="#fff" stroke="#8a8a8a" stroke-width="0.7"/><rect x="142.4" y="434.5" width="4.0" height="4.0" fill="#000"/><line x1="157.1" y1="426.7" x2="167.7" y2="426.7" stroke="#000" stroke-width="1.9"/><line x1="158.7" y1="423.0" x2="166.1" y2="430.4" stroke="#000" stroke-width="1.9"/><line x1="162.4" y1="421.4" x2="162.4" y2="432.0" stroke="#000" stroke-width="1.9"/><line x1="166.1" y1="423.0" x2="158.7" y2="430.4" stroke="#000" stroke-width="1.9"/>
<rect x="17.5" y="290.3" width="338.9" height="264.0" fill="none" stroke="#333" stroke-width="1.1"/>
<line x1="51.9" y1="554.3" x2="51.9" y2="560.3" stroke="#333" stroke-width="0.9"/>
<line x1="115.4" y1="554.3" x2="115.4" y2="560.3" stroke="#333" stroke-width="0.9"/>
<line x1="178.9" y1="554.3" x2="178.9" y2="560.3" stroke="#333" stroke-width="0.9"/>
<line x1="242.4" y1="554.3" x2="242.4" y2="560.3" stroke="#333" stroke-width="0.9"/>
<line x1="305.9" y1="554.3" x2="305.9" y2="560.3" stroke="#333" stroke-width="0.9"/>
<text x="51.9" y="570.8" font-size="9.00" font-weight="bold" fill="#111" text-anchor="middle" >0</text>
<text x="115.4" y="570.8" font-size="9.00" font-weight="bold" fill="#111" text-anchor="middle" >20</text>
<text x="178.9" y="570.8" font-size="9.00" font-weight="bold" fill="#111" text-anchor="middle" >40</text>
<text x="242.4" y="570.8" font-size="9.00" font-weight="bold" fill="#111" text-anchor="middle" >60</text>
<text x="305.9" y="570.8" font-size="9.00" font-weight="bold" fill="#111" text-anchor="middle" >80</text>
<line x1="11.3" y1="531.9" x2="17.5" y2="531.9" stroke="#666" stroke-width="0.8"/>
<line x1="11.3" y1="492.0" x2="17.5" y2="492.0" stroke="#666" stroke-width="0.8"/>
<line x1="11.3" y1="452.2" x2="17.5" y2="452.2" stroke="#666" stroke-width="0.8"/>
<line x1="11.3" y1="412.3" x2="17.5" y2="412.3" stroke="#666" stroke-width="0.8"/>
<line x1="11.3" y1="372.5" x2="17.5" y2="372.5" stroke="#666" stroke-width="0.8"/>
<line x1="11.3" y1="332.6" x2="17.5" y2="332.6" stroke="#666" stroke-width="0.8"/>
<line x1="11.3" y1="292.8" x2="17.5" y2="292.8" stroke="#666" stroke-width="0.8"/>
<text x="8.3" y="531.9" font-size="9.00" font-weight="bold" fill="#111" text-anchor="middle" transform="rotate(-90.0 8.3 531.9)" >10</text>
<text x="8.3" y="452.2" font-size="9.00" font-weight="bold" fill="#111" text-anchor="middle" transform="rotate(-90.0 8.3 452.2)" >30</text>
<text x="8.3" y="372.5" font-size="9.00" font-weight="bold" fill="#111" text-anchor="middle" transform="rotate(-90.0 8.3 372.5)" >50</text>
<text x="8.3" y="292.8" font-size="9.00" font-weight="bold" fill="#111" text-anchor="middle" transform="rotate(-90.0 8.3 292.8)" >70</text>
<text x="277.6" y="302.2" font-size="10.00" font-weight="bold" fill="#1a1a1a" text-anchor="start" >rs760148062(A)</text>
<text x="277.6" y="314.2" font-size="10.00" font-weight="bold" fill="#1a1a1a" text-anchor="start" >branch 17</text>
<clipPath id="c3"><rect x="17.6" y="623.5" width="338.4" height="150.7"/></clipPath>
<g clip-path="url(#c3)">
<use href="#land" transform="matrix(4.7500 0 0 -5.9800 68.000 923.400)"/>
</g>
<rect x="30.80" y="737.34" width="1.45" height="27.06" fill="#1a1a1a"/><rect x="32.51" y="736.54" width="1.45" height="27.86" fill="#1a1a1a"/><rect x="34.22" y="723.41" width="1.45" height="40.99" fill="#1a1a1a"/><rect x="35.92" y="700.32" width="1.45" height="64.08" fill="#1a1a1a"/><rect x="37.63" y="740.12" width="1.45" height="24.28" fill="#1a1a1a"/><rect x="39.34" y="737.34" width="1.45" height="27.06" fill="#1a1a1a"/><rect x="41.05" y="747.29" width="1.45" height="17.11" fill="#1a1a1a"/><rect x="42.75" y="720.62" width="1.45" height="43.78" fill="#1a1a1a"/><rect x="44.46" y="730.17" width="1.45" height="34.23" fill="#1a1a1a"/><rect x="46.17" y="732.56" width="1.45" height="31.84" fill="#1a1a1a"/><rect x="47.88" y="751.27" width="1.45" height="13.13" fill="#1a1a1a"/><rect x="49.58" y="751.27" width="1.45" height="13.13" fill="#1a1a1a"/><rect x="51.29" y="756.04" width="1.45" height="8.36" fill="#1a1a1a"/><rect x="53.00" y="762.01" width="1.45" height="2.39" fill="#1a1a1a"/><rect x="56.41" y="761.22" width="1.45" height="3.18" fill="#1a1a1a"/><rect x="58.12" y="758.43" width="1.45" height="5.97" fill="#1a1a1a"/><rect x="61.53" y="762.01" width="1.45" height="2.39" fill="#1a1a1a"/><rect x="63.24" y="762.81" width="1.45" height="1.59" fill="#1a1a1a"/><line x1="31.3" y1="764.4" x2="99.6" y2="764.4" stroke="#333" stroke-width="0.5"/><line x1="34.4" y1="696.7" x2="34.4" y2="767" stroke="#111" stroke-width="0.85" stroke-dasharray="2 1.4"/><line x1="41.3" y1="696.7" x2="41.3" y2="767.3" stroke="#555" stroke-width="1"/><line x1="31.3" y1="764.4" x2="99.6" y2="764.4" stroke="#555" stroke-width="0.5" stroke-dasharray="1.2 0.8"/><text x="31.3" y="771.8" font-size="5.20"  fill="#2a2a2a" text-anchor="middle" >0</text><text x="48.4" y="771.8" font-size="5.20"  fill="#2a2a2a" text-anchor="middle" >2000</text><text x="65.5" y="771.8" font-size="5.20"  fill="#2a2a2a" text-anchor="middle" >4000</text><text x="82.5" y="771.8" font-size="5.20"  fill="#2a2a2a" text-anchor="middle" >6000</text><text x="99.6" y="771.8" font-size="5.20"  fill="#2a2a2a" text-anchor="middle" >8000</text><text x="28.2" y="706.6" font-size="5.20"  fill="#2a2a2a" text-anchor="end" >150</text><text x="28.2" y="726.6" font-size="5.20"  fill="#2a2a2a" text-anchor="end" >100</text><text x="28.2" y="746.3" font-size="5.20"  fill="#2a2a2a" text-anchor="end" >50</text><text x="28.2" y="766.3" font-size="5.20"  fill="#2a2a2a" text-anchor="end" >0</text>
<polygon points="146.5,682.4 143.8,677.7 149.2,677.7" fill="#fff" stroke="#8a8a8a" stroke-width="0.7"/><polygon points="140.1,686.2 137.3,681.5 142.8,681.5" fill="#fff" stroke="#8a8a8a" stroke-width="0.7"/><polygon points="179.6,680.9 176.8,676.2 182.3,676.2" fill="#fff" stroke="#8a8a8a" stroke-width="0.7"/><polygon points="144.8,698.8 142.1,694.1 147.6,694.1" fill="#fff" stroke="#8a8a8a" stroke-width="0.7"/><polygon points="143.7,690.9 140.9,686.2 146.4,686.2" fill="#fff" stroke="#8a8a8a" stroke-width="0.7"/><polygon points="120.3,663.9 118.1,667.7 122.5,667.7" fill="#fff" stroke="#fff" stroke-width="1.0" stroke-linejoin="miter"/><polygon points="120.3,663.9 118.1,667.7 122.5,667.7" fill="#000"/><polygon points="110.7,681.2 108.5,685.0 112.9,685.0" fill="#fff" stroke="#fff" stroke-width="1.0" stroke-linejoin="miter"/><polygon points="110.7,681.2 108.5,685.0 112.9,685.0" fill="#000"/><polygon points="138.4,674.8 136.2,678.6 140.6,678.6" fill="#fff" stroke="#fff" stroke-width="1.0" stroke-linejoin="miter"/><polygon points="138.4,674.8 136.2,678.6 140.6,678.6" fill="#000"/><polygon points="142.0,673.1 139.8,676.9 144.2,676.9" fill="#fff" stroke="#fff" stroke-width="1.0" stroke-linejoin="miter"/><polygon points="142.0,673.1 139.8,676.9 144.2,676.9" fill="#000"/><polygon points="154.4,681.6 152.2,685.4 156.6,685.4" fill="#fff" stroke="#fff" stroke-width="1.0" stroke-linejoin="miter"/><polygon points="154.4,681.6 152.2,685.4 156.6,685.4" fill="#000"/><polygon points="174.7,683.8 172.5,687.6 176.8,687.6" fill="#fff" stroke="#fff" stroke-width="1.0" stroke-linejoin="miter"/><polygon points="174.7,683.8 172.5,687.6 176.8,687.6" fill="#000"/><polygon points="169.3,689.7 167.2,693.5 171.5,693.5" fill="#fff" stroke="#fff" stroke-width="1.0" stroke-linejoin="miter"/><polygon points="169.3,689.7 167.2,693.5 171.5,693.5" fill="#000"/><polygon points="171.5,692.3 169.3,696.1 173.7,696.1" fill="#fff" stroke="#fff" stroke-width="1.0" stroke-linejoin="miter"/><polygon points="171.5,692.3 169.3,696.1 173.7,696.1" fill="#000"/><polygon points="194.3,662.4 192.2,666.2 196.5,666.2" fill="#fff" stroke="#fff" stroke-width="1.0" stroke-linejoin="miter"/><polygon points="194.3,662.4 192.2,666.2 196.5,666.2" fill="#000"/><polygon points="194.3,687.0 192.2,690.8 196.5,690.8" fill="#fff" stroke="#fff" stroke-width="1.0" stroke-linejoin="miter"/><polygon points="194.3,687.0 192.2,690.8 196.5,690.8" fill="#000"/><polygon points="192.2,691.2 190.0,695.0 194.3,695.0" fill="#fff" stroke="#fff" stroke-width="1.0" stroke-linejoin="miter"/><polygon points="192.2,691.2 190.0,695.0 194.3,695.0" fill="#000"/><polygon points="206.0,694.6 203.8,698.4 208.2,698.4" fill="#fff" stroke="#fff" stroke-width="1.0" stroke-linejoin="miter"/><polygon points="206.0,694.6 203.8,698.4 208.2,698.4" fill="#000"/><polygon points="223.9,682.1 221.8,685.9 226.1,685.9" fill="#fff" stroke="#fff" stroke-width="1.0" stroke-linejoin="miter"/><polygon points="223.9,682.1 221.8,685.9 226.1,685.9" fill="#000"/><polygon points="232.5,700.8 230.3,704.6 234.7,704.6" fill="#fff" stroke="#fff" stroke-width="1.0" stroke-linejoin="miter"/><polygon points="232.5,700.8 230.3,704.6 234.7,704.6" fill="#000"/><polygon points="226.9,710.9 224.8,714.7 229.1,714.7" fill="#fff" stroke="#fff" stroke-width="1.0" stroke-linejoin="miter"/><polygon points="226.9,710.9 224.8,714.7 229.1,714.7" fill="#000"/><polygon points="237.6,718.3 235.4,722.1 239.8,722.1" fill="#fff" stroke="#fff" stroke-width="1.0" stroke-linejoin="miter"/><polygon points="237.6,718.3 235.4,722.1 239.8,722.1" fill="#000"/><polygon points="50.7,678.8 48.6,682.6 52.9,682.6" fill="#fff" stroke="#fff" stroke-width="1.0" stroke-linejoin="miter"/><polygon points="50.7,678.8 48.6,682.6 52.9,682.6" fill="#000"/><polygon points="312.0,707.7 309.9,711.5 314.1,711.5" fill="#fff" stroke="#fff" stroke-width="1.0" stroke-linejoin="miter"/><polygon points="312.0,707.7 309.9,711.5 314.1,711.5" fill="#000"/><ellipse cx="173.2" cy="690.6" rx="48.7" ry="11.2" transform="rotate(9.5 173.2 690.6)" fill="none" stroke="#111" stroke-width="0.9"/><line x1="147.4" y1="685.9" x2="153.8" y2="685.9" stroke="#000" stroke-width="1.1"/><line x1="148.3" y1="683.6" x2="152.9" y2="688.2" stroke="#000" stroke-width="1.1"/><line x1="150.6" y1="682.7" x2="150.6" y2="689.1" stroke="#000" stroke-width="1.1"/><line x1="152.9" y1="683.6" x2="148.3" y2="688.2" stroke="#000" stroke-width="1.1"/><rect x="171.9" y="689.0" width="2.2" height="2.2" fill="#000"/>
<rect x="17.6" y="623.5" width="338.4" height="150.7" fill="none" stroke="#333" stroke-width="1.1"/>
<line x1="20.5" y1="774.2" x2="20.5" y2="777.5" stroke="#333" stroke-width="0.9"/>
<line x1="68.0" y1="774.2" x2="68.0" y2="777.5" stroke="#333" stroke-width="0.9"/>
<line x1="115.5" y1="774.2" x2="115.5" y2="777.5" stroke="#333" stroke-width="0.9"/>
<line x1="163.0" y1="774.2" x2="163.0" y2="777.5" stroke="#333" stroke-width="0.9"/>
<line x1="210.5" y1="774.2" x2="210.5" y2="777.5" stroke="#333" stroke-width="0.9"/>
<line x1="258.0" y1="774.2" x2="258.0" y2="777.5" stroke="#333" stroke-width="0.9"/>
<line x1="305.5" y1="774.2" x2="305.5" y2="777.5" stroke="#333" stroke-width="0.9"/>
<line x1="353.0" y1="774.2" x2="353.0" y2="777.5" stroke="#333" stroke-width="0.9"/>
<text x="68.0" y="786.7" font-size="9.00" font-weight="bold" fill="#111" text-anchor="middle" >0</text>
<text x="163.0" y="786.7" font-size="9.00" font-weight="bold" fill="#111" text-anchor="middle" >20</text>
<text x="258.0" y="786.7" font-size="9.00" font-weight="bold" fill="#111" text-anchor="middle" >40</text>
<text x="353.0" y="786.7" font-size="9.00" font-weight="bold" fill="#111" text-anchor="middle" >60</text>
<line x1="14.4" y1="773.9" x2="17.6" y2="773.9" stroke="#555" stroke-width="0.8"/>
<line x1="14.4" y1="744.0" x2="17.6" y2="744.0" stroke="#555" stroke-width="0.8"/>
<line x1="14.4" y1="714.1" x2="17.6" y2="714.1" stroke="#555" stroke-width="0.8"/>
<line x1="14.4" y1="684.2" x2="17.6" y2="684.2" stroke="#555" stroke-width="0.8"/>
<line x1="14.4" y1="654.3" x2="17.6" y2="654.3" stroke="#555" stroke-width="0.8"/>
<line x1="14.4" y1="624.4" x2="17.6" y2="624.4" stroke="#555" stroke-width="0.8"/>
<text x="8.6" y="744.0" font-size="9.00" font-weight="bold" fill="#111" text-anchor="middle" transform="rotate(-90.0 8.6 744.0)" >30</text>
<text x="8.6" y="684.2" font-size="9.00" font-weight="bold" fill="#111" text-anchor="middle" transform="rotate(-90.0 8.6 684.2)" >40</text>
<text x="8.6" y="624.4" font-size="9.00" font-weight="bold" fill="#111" text-anchor="middle" transform="rotate(-90.0 8.6 624.4)" >50</text>
<text x="279.1" y="633.7" font-size="10.00" font-weight="bold" fill="#1a1a1a" text-anchor="start" >rs775512766(A)</text>
<text x="279.1" y="645.9" font-size="10.00" font-weight="bold" fill="#1a1a1a" text-anchor="start" >branch 58</text>
<clipPath id="c4"><rect x="378.7" y="622.3" width="338.4" height="151.9"/></clipPath>
<g clip-path="url(#c4)">
<use href="#land" transform="matrix(4.7500 0 0 -5.9800 429.100 923.400)"/>
</g>
<rect x="393.52" y="720.08" width="1.60" height="42.62" fill="#777"/><rect x="398.69" y="747.20" width="1.60" height="15.50" fill="#777"/><rect x="400.41" y="743.33" width="1.60" height="19.38" fill="#777"/><rect x="403.86" y="737.12" width="1.60" height="25.57" fill="#777"/><rect x="405.58" y="747.20" width="1.60" height="15.50" fill="#777"/><rect x="407.30" y="747.20" width="1.60" height="15.50" fill="#777"/><rect x="410.75" y="755.34" width="1.60" height="7.36" fill="#777"/><rect x="412.47" y="750.30" width="1.60" height="12.40" fill="#777"/><rect x="415.91" y="761.15" width="1.60" height="1.55" fill="#777"/><rect x="391.80" y="741.00" width="1.35" height="21.70" fill="#1a1a1a"/><rect x="393.52" y="712.33" width="1.35" height="50.38" fill="#1a1a1a"/><rect x="395.24" y="733.25" width="1.35" height="29.45" fill="#1a1a1a"/><rect x="396.97" y="698.38" width="1.35" height="64.33" fill="#1a1a1a"/><rect x="400.41" y="739.45" width="1.35" height="23.25" fill="#1a1a1a"/><rect x="402.13" y="744.88" width="1.35" height="17.82" fill="#1a1a1a"/><rect x="403.86" y="738.68" width="1.35" height="24.03" fill="#1a1a1a"/><rect x="407.30" y="728.60" width="1.35" height="34.10" fill="#1a1a1a"/><rect x="409.02" y="751.08" width="1.35" height="11.62" fill="#1a1a1a"/><rect x="412.47" y="754.95" width="1.35" height="7.75" fill="#1a1a1a"/><rect x="414.19" y="759.60" width="1.35" height="3.10" fill="#1a1a1a"/><rect x="417.64" y="760.38" width="1.35" height="2.33" fill="#1a1a1a"/><rect x="419.36" y="752.62" width="1.35" height="10.08" fill="#1a1a1a"/><rect x="422.80" y="759.60" width="1.35" height="3.10" fill="#1a1a1a"/><rect x="424.53" y="761.15" width="1.35" height="1.55" fill="#1a1a1a"/><line x1="392.4" y1="762.7" x2="461.3" y2="762.7" stroke="#333" stroke-width="0.5"/><line x1="401.3" y1="695" x2="401.3" y2="766" stroke="#111" stroke-width="0.85" stroke-dasharray="2 1.4"/><line x1="392.4" y1="762.7" x2="461.3" y2="762.7" stroke="#555" stroke-width="0.5" stroke-dasharray="1.2 0.8"/><text x="392.4" y="769.8" font-size="5.20"  fill="#2a2a2a" text-anchor="middle" >0</text><text x="409.6" y="769.8" font-size="5.20"  fill="#2a2a2a" text-anchor="middle" >2000</text><text x="426.9" y="769.8" font-size="5.20"  fill="#2a2a2a" text-anchor="middle" >4000</text><text x="444.1" y="769.8" font-size="5.20"  fill="#2a2a2a" text-anchor="middle" >6000</text><text x="461.3" y="769.8" font-size="5.20"  fill="#2a2a2a" text-anchor="middle" >8000</text><text x="389.3" y="702.6" font-size="5.20"  fill="#2a2a2a" text-anchor="end" >80</text><text x="389.3" y="718.1" font-size="5.20"  fill="#2a2a2a" text-anchor="end" >60</text><text x="389.3" y="733.6" font-size="5.20"  fill="#2a2a2a" text-anchor="end" >40</text><text x="389.3" y="749.1" font-size="5.20"  fill="#2a2a2a" text-anchor="end" >20</text><text x="389.3" y="764.6" font-size="5.20"  fill="#2a2a2a" text-anchor="end" >0</text>
<polygon points="481.4,668.1 478.6,663.4 484.1,663.4" fill="#fff" stroke="#fff" stroke-width="1.3" stroke-linejoin="round"/><polygon points="481.4,668.1 478.6,663.4 484.1,663.4" fill="none" stroke="#999" stroke-width="0.5"/><circle cx="481.4" cy="668.1" r="0.45" fill="#111"/><circle cx="478.6" cy="663.4" r="0.45" fill="#111"/><circle cx="484.1" cy="663.4" r="0.45" fill="#111"/><circle cx="480.0" cy="665.8" r="0.45" fill="#111"/><circle cx="481.4" cy="663.4" r="0.45" fill="#111"/><circle cx="482.8" cy="665.8" r="0.45" fill="#111"/><polygon points="472.0,686.1 469.2,681.4 474.8,681.4" fill="#fff" stroke="#fff" stroke-width="1.3" stroke-linejoin="round"/><polygon points="472.0,686.1 469.2,681.4 474.8,681.4" fill="none" stroke="#999" stroke-width="0.5"/><circle cx="472.0" cy="686.1" r="0.45" fill="#111"/><circle cx="469.2" cy="681.4" r="0.45" fill="#111"/><circle cx="474.8" cy="681.4" r="0.45" fill="#111"/><circle cx="470.6" cy="683.8" r="0.45" fill="#111"/><circle cx="472.0" cy="681.4" r="0.45" fill="#111"/><circle cx="473.4" cy="683.8" r="0.45" fill="#111"/><polygon points="505.5,690.2 502.8,685.5 508.2,685.5" fill="#fff" stroke="#fff" stroke-width="1.3" stroke-linejoin="round"/><polygon points="505.5,690.2 502.8,685.5 508.2,685.5" fill="none" stroke="#999" stroke-width="0.5"/><circle cx="505.5" cy="690.2" r="0.45" fill="#111"/><circle cx="502.8" cy="685.5" r="0.45" fill="#111"/><circle cx="508.2" cy="685.5" r="0.45" fill="#111"/><circle cx="504.1" cy="687.9" r="0.45" fill="#111"/><circle cx="505.5" cy="685.5" r="0.45" fill="#111"/><circle cx="506.9" cy="687.9" r="0.45" fill="#111"/><polygon points="506.2,697.0 503.4,692.3 508.9,692.3" fill="#fff" stroke="#fff" stroke-width="1.3" stroke-linejoin="round"/><polygon points="506.2,697.0 503.4,692.3 508.9,692.3" fill="none" stroke="#999" stroke-width="0.5"/><circle cx="506.2" cy="697.0" r="0.45" fill="#111"/><circle cx="503.4" cy="692.3" r="0.45" fill="#111"/><circle cx="508.9" cy="692.3" r="0.45" fill="#111"/><circle cx="504.8" cy="694.7" r="0.45" fill="#111"/><circle cx="506.2" cy="692.3" r="0.45" fill="#111"/><circle cx="507.6" cy="694.7" r="0.45" fill="#111"/><polygon points="553.1,696.0 550.4,691.3 555.9,691.3" fill="#fff" stroke="#8a8a8a" stroke-width="0.7"/><polygon points="585.1,686.9 582.4,682.2 587.9,682.2" fill="#fff" stroke="#fff" stroke-width="1.3" stroke-linejoin="round"/><polygon points="585.1,686.9 582.4,682.2 587.9,682.2" fill="none" stroke="#999" stroke-width="0.5"/><circle cx="585.1" cy="686.9" r="0.45" fill="#111"/><circle cx="582.4" cy="682.2" r="0.45" fill="#111"/><circle cx="587.9" cy="682.2" r="0.45" fill="#111"/><circle cx="583.7" cy="684.6" r="0.45" fill="#111"/><circle cx="585.1" cy="682.2" r="0.45" fill="#111"/><circle cx="586.5" cy="684.6" r="0.45" fill="#111"/><polygon points="593.5,705.9 590.8,701.2 596.2,701.2" fill="#fff" stroke="#fff" stroke-width="1.3" stroke-linejoin="round"/><polygon points="593.5,705.9 590.8,701.2 596.2,701.2" fill="none" stroke="#999" stroke-width="0.5"/><circle cx="593.5" cy="705.9" r="0.45" fill="#111"/><circle cx="590.8" cy="701.2" r="0.45" fill="#111"/><circle cx="596.2" cy="701.2" r="0.45" fill="#111"/><circle cx="592.1" cy="703.6" r="0.45" fill="#111"/><circle cx="593.5" cy="701.2" r="0.45" fill="#111"/><circle cx="594.9" cy="703.6" r="0.45" fill="#111"/><polygon points="587.6,716.0 584.9,711.3 590.4,711.3" fill="#fff" stroke="#fff" stroke-width="1.3" stroke-linejoin="round"/><polygon points="587.6,716.0 584.9,711.3 590.4,711.3" fill="none" stroke="#999" stroke-width="0.5"/><circle cx="587.6" cy="716.0" r="0.45" fill="#111"/><circle cx="584.9" cy="711.3" r="0.45" fill="#111"/><circle cx="590.4" cy="711.3" r="0.45" fill="#111"/><circle cx="586.2" cy="713.7" r="0.45" fill="#111"/><circle cx="587.6" cy="711.3" r="0.45" fill="#111"/><circle cx="589.0" cy="713.7" r="0.45" fill="#111"/><polygon points="411.7,678.1 409.6,681.9 413.8,681.9" fill="#fff" stroke="#fff" stroke-width="1.0" stroke-linejoin="miter"/><polygon points="411.7,678.1 409.6,681.9 413.8,681.9" fill="#000"/><polygon points="499.1,674.3 497.0,678.1 501.2,678.1" fill="#fff" stroke="#fff" stroke-width="1.0" stroke-linejoin="miter"/><polygon points="499.1,674.3 497.0,678.1 501.2,678.1" fill="#000"/><polygon points="502.9,672.3 500.8,676.1 505.0,676.1" fill="#fff" stroke="#fff" stroke-width="1.0" stroke-linejoin="miter"/><polygon points="502.9,672.3 500.8,676.1 505.0,676.1" fill="#000"/><polygon points="507.5,676.1 505.4,679.9 509.6,679.9" fill="#fff" stroke="#fff" stroke-width="1.0" stroke-linejoin="miter"/><polygon points="507.5,676.1 505.4,679.9 509.6,679.9" fill="#000"/><polygon points="501.2,679.6 499.1,683.4 503.3,683.4" fill="#fff" stroke="#fff" stroke-width="1.0" stroke-linejoin="miter"/><polygon points="501.2,679.6 499.1,683.4 503.3,683.4" fill="#000"/><polygon points="555.1,661.6 553.0,665.4 557.2,665.4" fill="#fff" stroke="#fff" stroke-width="1.0" stroke-linejoin="miter"/><polygon points="555.1,661.6 553.0,665.4 557.2,665.4" fill="#000"/><polygon points="540.7,674.5 538.6,678.3 542.9,678.3" fill="#fff" stroke="#fff" stroke-width="1.0" stroke-linejoin="miter"/><polygon points="540.7,674.5 538.6,678.3 542.9,678.3" fill="#000"/><polygon points="535.4,683.1 533.2,686.9 537.5,686.9" fill="#fff" stroke="#fff" stroke-width="1.0" stroke-linejoin="miter"/><polygon points="535.4,683.1 533.2,686.9 537.5,686.9" fill="#000"/><polygon points="532.1,691.0 530.0,694.8 534.2,694.8" fill="#fff" stroke="#fff" stroke-width="1.0" stroke-linejoin="miter"/><polygon points="532.1,691.0 530.0,694.8 534.2,694.8" fill="#000"/><polygon points="555.1,686.4 553.0,690.2 557.2,690.2" fill="#fff" stroke="#fff" stroke-width="1.0" stroke-linejoin="miter"/><polygon points="555.1,686.4 553.0,690.2 557.2,690.2" fill="#000"/><polygon points="567.4,694.5 565.2,698.3 569.5,698.3" fill="#fff" stroke="#fff" stroke-width="1.0" stroke-linejoin="miter"/><polygon points="567.4,694.5 565.2,698.3 569.5,698.3" fill="#000"/><polygon points="598.8,717.3 596.6,721.1 600.9,721.1" fill="#fff" stroke="#fff" stroke-width="1.0" stroke-linejoin="miter"/><polygon points="598.8,717.3 596.6,721.1 600.9,721.1" fill="#000"/><polygon points="673.0,707.2 670.9,711.0 675.1,711.0" fill="#fff" stroke="#fff" stroke-width="1.0" stroke-linejoin="miter"/><polygon points="673.0,707.2 670.9,711.0 675.1,711.0" fill="#000"/><ellipse cx="525.1" cy="688.8" rx="15.2" ry="4.6" transform="rotate(10.5 525.1 688.8)" fill="none" stroke="#111" stroke-width="0.9"/><line x1="536.5" y1="689.0" x2="542.9" y2="689.0" stroke="#000" stroke-width="1.1"/><line x1="537.4" y1="686.7" x2="542.0" y2="691.3" stroke="#000" stroke-width="1.1"/><line x1="539.7" y1="685.8" x2="539.7" y2="692.2" stroke="#000" stroke-width="1.1"/><line x1="542.0" y1="686.7" x2="537.4" y2="691.3" stroke="#000" stroke-width="1.1"/><rect x="523.7" y="687.8" width="2.0" height="2.0" fill="#000"/>
<rect x="378.7" y="622.3" width="338.4" height="151.9" fill="none" stroke="#333" stroke-width="1.1"/>
<line x1="381.6" y1="774.2" x2="381.6" y2="777.5" stroke="#333" stroke-width="0.9"/>
<line x1="429.1" y1="774.2" x2="429.1" y2="777.5" stroke="#333" stroke-width="0.9"/>
<line x1="476.6" y1="774.2" x2="476.6" y2="777.5" stroke="#333" stroke-width="0.9"/>
<line x1="524.1" y1="774.2" x2="524.1" y2="777.5" stroke="#333" stroke-width="0.9"/>
<line x1="571.6" y1="774.2" x2="571.6" y2="777.5" stroke="#333" stroke-width="0.9"/>
<line x1="619.1" y1="774.2" x2="619.1" y2="777.5" stroke="#333" stroke-width="0.9"/>
<line x1="666.6" y1="774.2" x2="666.6" y2="777.5" stroke="#333" stroke-width="0.9"/>
<line x1="714.1" y1="774.2" x2="714.1" y2="777.5" stroke="#333" stroke-width="0.9"/>
<text x="429.1" y="786.7" font-size="9.00" font-weight="bold" fill="#111" text-anchor="middle" >0</text>
<text x="524.1" y="786.7" font-size="9.00" font-weight="bold" fill="#111" text-anchor="middle" >20</text>
<text x="619.1" y="786.7" font-size="9.00" font-weight="bold" fill="#111" text-anchor="middle" >40</text>
<text x="714.1" y="786.7" font-size="9.00" font-weight="bold" fill="#111" text-anchor="middle" >60</text>
<line x1="375.5" y1="773.9" x2="378.7" y2="773.9" stroke="#555" stroke-width="0.8"/>
<line x1="375.5" y1="744.0" x2="378.7" y2="744.0" stroke="#555" stroke-width="0.8"/>
<line x1="375.5" y1="714.1" x2="378.7" y2="714.1" stroke="#555" stroke-width="0.8"/>
<line x1="375.5" y1="684.2" x2="378.7" y2="684.2" stroke="#555" stroke-width="0.8"/>
<line x1="375.5" y1="654.3" x2="378.7" y2="654.3" stroke="#555" stroke-width="0.8"/>
<line x1="375.5" y1="624.4" x2="378.7" y2="624.4" stroke="#555" stroke-width="0.8"/>
<text x="640.2" y="633.7" font-size="10.00" font-weight="bold" fill="#1a1a1a" text-anchor="start" >rs781395358(T)</text>
<text x="640.2" y="645.9" font-size="10.00" font-weight="bold" fill="#1a1a1a" text-anchor="start" >branch 59</text>
<clipPath id="c5"><rect x="17.6" y="847.3" width="338.4" height="150.7"/></clipPath>
<g clip-path="url(#c5)">
<use href="#land" transform="matrix(4.7500 0 0 -5.9800 68.000 1147.200)"/>
</g>
<rect x="38.41" y="965.50" width="1.50" height="23.10" fill="#999"/><rect x="40.13" y="976.28" width="1.50" height="12.32" fill="#999"/><rect x="45.30" y="969.74" width="1.50" height="18.87" fill="#999"/><rect x="52.19" y="981.28" width="1.50" height="7.32" fill="#999"/><rect x="59.08" y="982.44" width="1.50" height="6.16" fill="#999"/><rect x="62.53" y="985.13" width="1.50" height="3.46" fill="#999"/><rect x="64.25" y="987.06" width="1.50" height="1.54" fill="#999"/><rect x="29.80" y="955.03" width="1.45" height="33.57" fill="#222"/><rect x="31.52" y="951.02" width="1.45" height="37.58" fill="#222"/><rect x="33.24" y="953.18" width="1.45" height="35.42" fill="#222"/><rect x="34.97" y="923.92" width="1.45" height="64.68" fill="#222"/><rect x="36.69" y="960.11" width="1.45" height="28.49" fill="#222"/><rect x="41.86" y="930.08" width="1.45" height="58.52" fill="#222"/><rect x="43.58" y="954.72" width="1.45" height="33.88" fill="#222"/><rect x="45.30" y="978.59" width="1.45" height="10.01" fill="#222"/><rect x="47.02" y="978.98" width="1.45" height="9.62" fill="#222"/><rect x="48.75" y="976.28" width="1.45" height="12.32" fill="#222"/><line x1="30.4" y1="988.6" x2="99.3" y2="988.6" stroke="#333" stroke-width="0.5"/><line x1="38.4" y1="921" x2="38.4" y2="992" stroke="#111" stroke-width="0.8"/><line x1="41.6" y1="921" x2="41.6" y2="991.5" stroke="#fff" stroke-width="0.9"/><line x1="41.6" y1="921" x2="41.6" y2="991.5" stroke="#111" stroke-width="1.0" stroke-dasharray="1.6 1.3"/><line x1="30.4" y1="988.6" x2="99.3" y2="988.6" stroke="#555" stroke-width="0.5" stroke-dasharray="1.2 0.8"/><text x="30.4" y="995.8" font-size="5.20"  fill="#2a2a2a" text-anchor="middle" >0</text><text x="47.6" y="995.8" font-size="5.20"  fill="#2a2a2a" text-anchor="middle" >2000</text><text x="64.8" y="995.8" font-size="5.20"  fill="#2a2a2a" text-anchor="middle" >4000</text><text x="82.1" y="995.8" font-size="5.20"  fill="#2a2a2a" text-anchor="middle" >6000</text><text x="99.3" y="995.8" font-size="5.20"  fill="#2a2a2a" text-anchor="middle" >8000</text><text x="27.2" y="928.9" font-size="5.20"  fill="#2a2a2a" text-anchor="end" >80</text><text x="27.2" y="944.3" font-size="5.20"  fill="#2a2a2a" text-anchor="end" >60</text><text x="27.2" y="959.7" font-size="5.20"  fill="#2a2a2a" text-anchor="end" >40</text><text x="27.2" y="975.1" font-size="5.20"  fill="#2a2a2a" text-anchor="end" >20</text><text x="27.2" y="990.5" font-size="5.20"  fill="#2a2a2a" text-anchor="end" >0</text>
<polygon points="50.7,908.3 48.0,903.6 53.5,903.6" fill="#fff" stroke="#8a8a8a" stroke-width="0.7"/><polygon points="110.7,910.6 108.0,905.9 113.5,905.9" fill="#fff" stroke="#fff" stroke-width="1.3" stroke-linejoin="round"/><polygon points="110.7,910.6 108.0,905.9 113.5,905.9" fill="none" stroke="#999" stroke-width="0.5"/><circle cx="110.7" cy="910.6" r="0.45" fill="#111"/><circle cx="108.0" cy="905.9" r="0.45" fill="#111"/><circle cx="113.5" cy="905.9" r="0.45" fill="#111"/><circle cx="109.3" cy="908.3" r="0.45" fill="#111"/><circle cx="110.7" cy="905.9" r="0.45" fill="#111"/><circle cx="112.1" cy="908.3" r="0.45" fill="#111"/><polygon points="120.3,893.1 117.5,888.4 123.0,888.4" fill="#fff" stroke="#fff" stroke-width="1.3" stroke-linejoin="round"/><polygon points="120.3,893.1 117.5,888.4 123.0,888.4" fill="none" stroke="#999" stroke-width="0.5"/><circle cx="120.3" cy="893.1" r="0.45" fill="#111"/><circle cx="117.5" cy="888.4" r="0.45" fill="#111"/><circle cx="123.0" cy="888.4" r="0.45" fill="#111"/><circle cx="118.9" cy="890.8" r="0.45" fill="#111"/><circle cx="120.3" cy="888.4" r="0.45" fill="#111"/><circle cx="121.7" cy="890.8" r="0.45" fill="#111"/><polygon points="138.3,905.0 135.6,900.3 141.1,900.3" fill="#fff" stroke="#fff" stroke-width="1.3" stroke-linejoin="round"/><polygon points="138.3,905.0 135.6,900.3 141.1,900.3" fill="none" stroke="#999" stroke-width="0.5"/><circle cx="138.3" cy="905.0" r="0.45" fill="#111"/><circle cx="135.6" cy="900.3" r="0.45" fill="#111"/><circle cx="141.1" cy="900.3" r="0.45" fill="#111"/><circle cx="136.9" cy="902.7" r="0.45" fill="#111"/><circle cx="138.3" cy="900.3" r="0.45" fill="#111"/><circle cx="139.7" cy="902.7" r="0.45" fill="#111"/><polygon points="141.9,902.5 139.2,897.8 144.7,897.8" fill="#fff" stroke="#fff" stroke-width="1.3" stroke-linejoin="round"/><polygon points="141.9,902.5 139.2,897.8 144.7,897.8" fill="none" stroke="#999" stroke-width="0.5"/><circle cx="141.9" cy="902.5" r="0.45" fill="#111"/><circle cx="139.2" cy="897.8" r="0.45" fill="#111"/><circle cx="144.7" cy="897.8" r="0.45" fill="#111"/><circle cx="140.5" cy="900.2" r="0.45" fill="#111"/><circle cx="141.9" cy="897.8" r="0.45" fill="#111"/><circle cx="143.3" cy="900.2" r="0.45" fill="#111"/><polygon points="144.9,914.7 142.2,910.0 147.7,910.0" fill="#fff" stroke="#fff" stroke-width="1.3" stroke-linejoin="round"/><polygon points="144.9,914.7 142.2,910.0 147.7,910.0" fill="none" stroke="#999" stroke-width="0.5"/><circle cx="144.9" cy="914.7" r="0.45" fill="#111"/><circle cx="142.2" cy="910.0" r="0.45" fill="#111"/><circle cx="147.7" cy="910.0" r="0.45" fill="#111"/><circle cx="143.5" cy="912.4" r="0.45" fill="#111"/><circle cx="144.9" cy="910.0" r="0.45" fill="#111"/><circle cx="146.3" cy="912.4" r="0.45" fill="#111"/><polygon points="145.2,921.5 142.4,916.8 147.9,916.8" fill="#fff" stroke="#fff" stroke-width="1.3" stroke-linejoin="round"/><polygon points="145.2,921.5 142.4,916.8 147.9,916.8" fill="none" stroke="#999" stroke-width="0.5"/><circle cx="145.2" cy="921.5" r="0.45" fill="#111"/><circle cx="142.4" cy="916.8" r="0.45" fill="#111"/><circle cx="147.9" cy="916.8" r="0.45" fill="#111"/><circle cx="143.8" cy="919.2" r="0.45" fill="#111"/><circle cx="145.2" cy="916.8" r="0.45" fill="#111"/><circle cx="146.6" cy="919.2" r="0.45" fill="#111"/><polygon points="194.3,891.9 191.6,887.2 197.1,887.2" fill="#fff" stroke="#8a8a8a" stroke-width="0.7"/><polygon points="206.2,924.8 203.4,920.1 208.9,920.1" fill="#fff" stroke="#8a8a8a" stroke-width="0.7"/><polygon points="237.4,947.6 234.7,942.9 240.2,942.9" fill="#fff" stroke="#8a8a8a" stroke-width="0.7"/><polygon points="311.9,937.2 309.1,932.5 314.6,932.5" fill="#fff" stroke="#8a8a8a" stroke-width="0.7"/><polygon points="146.2,900.8 144.0,904.6 148.3,904.6" fill="#fff" stroke="#fff" stroke-width="1.0" stroke-linejoin="miter"/><polygon points="146.2,900.8 144.0,904.6 148.3,904.6" fill="#000"/><polygon points="140.6,904.3 138.4,908.1 142.8,908.1" fill="#fff" stroke="#fff" stroke-width="1.0" stroke-linejoin="miter"/><polygon points="140.6,904.3 138.4,908.1 142.8,908.1" fill="#000"/><polygon points="154.3,905.9 152.2,909.7 156.5,909.7" fill="#fff" stroke="#fff" stroke-width="1.0" stroke-linejoin="miter"/><polygon points="154.3,905.9 152.2,909.7 156.5,909.7" fill="#000"/><polygon points="179.9,899.3 177.8,903.1 182.1,903.1" fill="#fff" stroke="#fff" stroke-width="1.0" stroke-linejoin="miter"/><polygon points="179.9,899.3 177.8,903.1 182.1,903.1" fill="#000"/><polygon points="171.5,916.0 169.3,919.8 173.7,919.8" fill="#fff" stroke="#fff" stroke-width="1.0" stroke-linejoin="miter"/><polygon points="171.5,916.0 169.3,919.8 173.7,919.8" fill="#000"/><polygon points="169.2,914.0 167.0,917.8 171.3,917.8" fill="#fff" stroke="#fff" stroke-width="1.0" stroke-linejoin="miter"/><polygon points="169.2,914.0 167.0,917.8 171.3,917.8" fill="#000"/><polygon points="194.3,911.2 192.2,915.0 196.5,915.0" fill="#fff" stroke="#fff" stroke-width="1.0" stroke-linejoin="miter"/><polygon points="194.3,911.2 192.2,915.0 196.5,915.0" fill="#000"/><polygon points="192.3,915.2 190.2,919.0 194.5,919.0" fill="#fff" stroke="#fff" stroke-width="1.0" stroke-linejoin="miter"/><polygon points="192.3,915.2 190.2,919.0 194.5,919.0" fill="#000"/><polygon points="224.0,906.1 221.8,909.9 226.2,909.9" fill="#fff" stroke="#fff" stroke-width="1.0" stroke-linejoin="miter"/><polygon points="224.0,906.1 221.8,909.9 226.2,909.9" fill="#000"/><polygon points="232.6,924.6 230.4,928.4 234.8,928.4" fill="#fff" stroke="#fff" stroke-width="1.0" stroke-linejoin="miter"/><polygon points="232.6,924.6 230.4,928.4 234.8,928.4" fill="#000"/><polygon points="227.0,935.0 224.8,938.8 229.2,938.8" fill="#fff" stroke="#fff" stroke-width="1.0" stroke-linejoin="miter"/><polygon points="227.0,935.0 224.8,938.8 229.2,938.8" fill="#000"/><ellipse cx="173.6" cy="913.5" rx="14.5" ry="3.9" transform="rotate(6.5 173.6 913.5)" fill="none" stroke="#111" stroke-width="0.9"/><line x1="161.5" y1="914.3" x2="167.9" y2="914.3" stroke="#000" stroke-width="1.1"/><line x1="162.4" y1="912.0" x2="167.0" y2="916.6" stroke="#000" stroke-width="1.1"/><line x1="164.7" y1="911.1" x2="164.7" y2="917.5" stroke="#000" stroke-width="1.1"/><line x1="167.0" y1="912.0" x2="162.4" y2="916.6" stroke="#000" stroke-width="1.1"/><rect x="172.6" y="912.5" width="2.0" height="2.0" fill="#000"/>
<rect x="17.6" y="847.3" width="338.4" height="150.7" fill="none" stroke="#333" stroke-width="1.1"/>
<line x1="20.5" y1="998.0" x2="20.5" y2="1001.3" stroke="#333" stroke-width="0.9"/>
<line x1="68.0" y1="998.0" x2="68.0" y2="1001.3" stroke="#333" stroke-width="0.9"/>
<line x1="115.5" y1="998.0" x2="115.5" y2="1001.3" stroke="#333" stroke-width="0.9"/>
<line x1="163.0" y1="998.0" x2="163.0" y2="1001.3" stroke="#333" stroke-width="0.9"/>
<line x1="210.5" y1="998.0" x2="210.5" y2="1001.3" stroke="#333" stroke-width="0.9"/>
<line x1="258.0" y1="998.0" x2="258.0" y2="1001.3" stroke="#333" stroke-width="0.9"/>
<line x1="305.5" y1="998.0" x2="305.5" y2="1001.3" stroke="#333" stroke-width="0.9"/>
<line x1="353.0" y1="998.0" x2="353.0" y2="1001.3" stroke="#333" stroke-width="0.9"/>
<text x="68.0" y="1010.5" font-size="9.00" font-weight="bold" fill="#111" text-anchor="middle" >0</text>
<text x="163.0" y="1010.5" font-size="9.00" font-weight="bold" fill="#111" text-anchor="middle" >20</text>
<text x="258.0" y="1010.5" font-size="9.00" font-weight="bold" fill="#111" text-anchor="middle" >40</text>
<text x="353.0" y="1010.5" font-size="9.00" font-weight="bold" fill="#111" text-anchor="middle" >60</text>
<line x1="14.4" y1="997.7" x2="17.6" y2="997.7" stroke="#555" stroke-width="0.8"/>
<line x1="14.4" y1="967.8" x2="17.6" y2="967.8" stroke="#555" stroke-width="0.8"/>
<line x1="14.4" y1="937.9" x2="17.6" y2="937.9" stroke="#555" stroke-width="0.8"/>
<line x1="14.4" y1="908.0" x2="17.6" y2="908.0" stroke="#555" stroke-width="0.8"/>
<line x1="14.4" y1="878.1" x2="17.6" y2="878.1" stroke="#555" stroke-width="0.8"/>
<line x1="14.4" y1="848.2" x2="17.6" y2="848.2" stroke="#555" stroke-width="0.8"/>
<text x="8.6" y="967.8" font-size="9.00" font-weight="bold" fill="#111" text-anchor="middle" transform="rotate(-90.0 8.6 967.8)" >30</text>
<text x="8.6" y="908.0" font-size="9.00" font-weight="bold" fill="#111" text-anchor="middle" transform="rotate(-90.0 8.6 908.0)" >40</text>
<text x="8.6" y="848.2" font-size="9.00" font-weight="bold" fill="#111" text-anchor="middle" transform="rotate(-90.0 8.6 848.2)" >50</text>
<text x="279.1" y="857.5" font-size="10.00" font-weight="bold" fill="#1a1a1a" text-anchor="start" >rs773856887(T)</text>
<text x="279.1" y="869.7" font-size="10.00" font-weight="bold" fill="#1a1a1a" text-anchor="start" >branch 57</text>
<rect x="376.4" y="481.7" width="96.4" height="73.0" fill="#fff" stroke="#777" stroke-width="0.9"/>
<text x="381.3" y="489.8" font-size="6.35" font-weight="bold" fill="#129a3e" text-anchor="start" >Rest of Europe</text>
<text x="381.3" y="497.5" font-size="6.35" font-weight="bold" fill="#a5d610" text-anchor="start" >Italy</text>
<text x="381.3" y="505.2" font-size="6.35" font-weight="bold" fill="#c4c4c4" text-anchor="start" >Sardinia</text>
<text x="381.3" y="512.8" font-size="6.35" font-weight="bold" fill="#4fa6dc" text-anchor="start" >Greece</text>
<text x="381.3" y="520.5" font-size="6.35" font-weight="bold" fill="#2f5fb6" text-anchor="start" >Crete</text>
<text x="381.3" y="528.2" font-size="6.35" font-weight="bold" fill="#e0291d" text-anchor="start" >Turkey</text>
<text x="381.3" y="535.9" font-size="6.35" font-weight="bold" fill="#ff9a1f" text-anchor="start" >Middle East and Arabian Pen.</text>
<text x="381.3" y="543.6" font-size="6.35" font-weight="bold" fill="#7a3410" text-anchor="start" >Africa</text>
<text x="381.3" y="551.2" font-size="6.35" font-weight="bold" fill="#c845c0" text-anchor="start" >Iran and India</text>
<rect x="378.3" y="796.5" width="95.4" height="72.5" fill="#fff" stroke="#777" stroke-width="0.9"/>
<text x="382.8" y="806.0" font-size="6.35" font-weight="bold" fill="#129a3e" text-anchor="start" >Rest of Europe</text>
<text x="382.8" y="813.6" font-size="6.35" font-weight="bold" fill="#a5d610" text-anchor="start" >Italy</text>
<text x="382.8" y="821.2" font-size="6.35" font-weight="bold" fill="#c4c4c4" text-anchor="start" >Sardinia</text>
<text x="382.8" y="828.9" font-size="6.35" font-weight="bold" fill="#4fa6dc" text-anchor="start" >Greece</text>
<text x="382.8" y="836.5" font-size="6.35" font-weight="bold" fill="#2f5fb6" text-anchor="start" >Crete</text>
<text x="382.8" y="844.1" font-size="6.35" font-weight="bold" fill="#e0291d" text-anchor="start" >Turkey</text>
<text x="382.8" y="851.7" font-size="6.35" font-weight="bold" fill="#ff9a1f" text-anchor="start" >Middle East and Arabian Pen.</text>
<text x="382.8" y="859.3" font-size="6.35" font-weight="bold" fill="#7a3410" text-anchor="start" >Africa</text>
<text x="382.8" y="867.0" font-size="6.35" font-weight="bold" fill="#c845c0" text-anchor="start" >Iran and India</text>
<line x1="445.0" y1="51.0" x2="503.2" y2="132.7" stroke="#7d7d7d" stroke-width="0.6"/>
<line x1="503.2" y1="132.7" x2="520.0" y2="153.7" stroke="#7d7d7d" stroke-width="0.6"/>
<line x1="498.1" y1="154.4" x2="520.0" y2="153.7" stroke="#7d7d7d" stroke-width="0.6"/>
<line x1="498.1" y1="154.4" x2="483.6" y2="178.8" stroke="#7d7d7d" stroke-width="0.6"/>
<line x1="483.6" y1="178.8" x2="504.9" y2="177.6" stroke="#7d7d7d" stroke-width="0.6"/>
<line x1="483.6" y1="178.8" x2="495.9" y2="196.5" stroke="#7d7d7d" stroke-width="0.6"/>
<line x1="483.6" y1="178.8" x2="434.7" y2="224.4" stroke="#7d7d7d" stroke-width="0.6"/>
<line x1="520.0" y1="153.7" x2="504.9" y2="177.6" stroke="#7d7d7d" stroke-width="0.6"/>
<line x1="504.9" y1="177.6" x2="471.5" y2="211.3" stroke="#7d7d7d" stroke-width="0.6"/>
<line x1="471.5" y1="211.3" x2="447.5" y2="237.7" stroke="#7d7d7d" stroke-width="0.6"/>
<line x1="520.0" y1="153.7" x2="532.0" y2="165.6" stroke="#7d7d7d" stroke-width="0.6"/>
<line x1="532.0" y1="165.6" x2="513.9" y2="196.0" stroke="#7d7d7d" stroke-width="0.6"/>
<line x1="504.9" y1="177.6" x2="544.3" y2="174.3" stroke="#7d7d7d" stroke-width="0.6"/>
<line x1="544.3" y1="174.3" x2="536.0" y2="194.4" stroke="#7d7d7d" stroke-width="0.6"/>
<line x1="544.3" y1="174.3" x2="559.3" y2="209.3" stroke="#7d7d7d" stroke-width="0.6"/>
<line x1="513.9" y1="196.0" x2="536.0" y2="194.4" stroke="#7d7d7d" stroke-width="0.6"/>
<line x1="513.9" y1="196.0" x2="495.9" y2="196.5" stroke="#7d7d7d" stroke-width="0.6"/>
<line x1="504.9" y1="177.6" x2="513.9" y2="196.0" stroke="#7d7d7d" stroke-width="0.6"/>
<line x1="513.9" y1="196.0" x2="502.3" y2="212.0" stroke="#7d7d7d" stroke-width="0.6"/>
<line x1="502.3" y1="212.0" x2="451.2" y2="294.1" stroke="#7d7d7d" stroke-width="0.6"/>
<line x1="513.9" y1="196.0" x2="523.3" y2="209.3" stroke="#7d7d7d" stroke-width="0.6"/>
<line x1="523.3" y1="209.3" x2="559.3" y2="209.3" stroke="#7d7d7d" stroke-width="0.6"/>
<line x1="523.3" y1="209.3" x2="512.3" y2="235.7" stroke="#7d7d7d" stroke-width="0.6"/>
<line x1="512.3" y1="235.7" x2="501.3" y2="260.0" stroke="#7d7d7d" stroke-width="0.6"/>
<line x1="559.3" y1="209.3" x2="584.3" y2="217.5" stroke="#7d7d7d" stroke-width="0.6"/>
<line x1="584.3" y1="217.5" x2="607.2" y2="223.9" stroke="#7d7d7d" stroke-width="0.6"/>
<line x1="607.2" y1="223.9" x2="664.0" y2="248.5" stroke="#7d7d7d" stroke-width="0.6"/>
<line x1="607.2" y1="223.9" x2="602.9" y2="268.3" stroke="#7d7d7d" stroke-width="0.6"/>
<line x1="602.9" y1="268.3" x2="597.7" y2="311.7" stroke="#7d7d7d" stroke-width="0.6"/>
<line x1="597.7" y1="311.7" x2="629.0" y2="300.0" stroke="#7d7d7d" stroke-width="0.6"/>
<line x1="597.7" y1="311.7" x2="594.7" y2="345.3" stroke="#7d7d7d" stroke-width="0.6"/>
<line x1="629.0" y1="300.0" x2="627.4" y2="336.2" stroke="#7d7d7d" stroke-width="0.6"/>
<line x1="629.0" y1="300.0" x2="632.2" y2="284.1" stroke="#7d7d7d" stroke-width="0.6"/>
<line x1="629.0" y1="300.0" x2="641.6" y2="308.3" stroke="#7d7d7d" stroke-width="0.6"/>
<line x1="664.0" y1="248.5" x2="662.2" y2="289.0" stroke="#7d7d7d" stroke-width="0.6"/>
<line x1="662.2" y1="289.0" x2="661.6" y2="317.0" stroke="#7d7d7d" stroke-width="0.6"/>
<line x1="661.6" y1="317.0" x2="686.3" y2="327.4" stroke="#7d7d7d" stroke-width="0.6"/>
<line x1="661.6" y1="317.0" x2="661.8" y2="375.2" stroke="#7d7d7d" stroke-width="0.6"/>
<line x1="661.8" y1="375.2" x2="635.4" y2="362.3" stroke="#7d7d7d" stroke-width="0.6"/>
<line x1="635.4" y1="362.3" x2="594.7" y2="345.3" stroke="#7d7d7d" stroke-width="0.6"/>
<line x1="635.4" y1="362.3" x2="614.1" y2="392.4" stroke="#7d7d7d" stroke-width="0.6"/>
<line x1="635.4" y1="362.3" x2="682.9" y2="439.6" stroke="#7d7d7d" stroke-width="0.6"/>
<line x1="614.1" y1="392.4" x2="571.7" y2="377.3" stroke="#7d7d7d" stroke-width="0.6"/>
<line x1="571.7" y1="377.3" x2="594.7" y2="345.3" stroke="#7d7d7d" stroke-width="0.6"/>
<line x1="571.7" y1="377.3" x2="559.0" y2="394.6" stroke="#7d7d7d" stroke-width="0.6"/>
<line x1="594.7" y1="345.3" x2="561.0" y2="334.7" stroke="#7d7d7d" stroke-width="0.6"/>
<line x1="682.9" y1="439.6" x2="706.7" y2="441.7" stroke="#7d7d7d" stroke-width="0.6"/>
<line x1="682.9" y1="439.6" x2="682.4" y2="462.9" stroke="#7d7d7d" stroke-width="0.6"/>
<line x1="682.4" y1="462.9" x2="702.0" y2="472.0" stroke="#7d7d7d" stroke-width="0.6"/>
<line x1="682.4" y1="462.9" x2="702.4" y2="499.6" stroke="#7d7d7d" stroke-width="0.6"/>
<circle cx="445.0" cy="51.0" r="4.5" fill="#e0291d" stroke="#222" stroke-width="0.7"/>
<circle cx="503.2" cy="132.7" r="4.5" fill="#a5d610" stroke="#222" stroke-width="0.7"/>
<circle cx="498.1" cy="154.4" r="4.5" fill="#4c7cc6" stroke="#222" stroke-width="0.7"/>
<path d="M520.00 153.70 L520.00 147.40 A6.30 6.30 0 0 1 520.00 160.00 Z" fill="#4c7cc6" stroke="#4c7cc6" stroke-width="0.3"/><path d="M520.00 153.70 L520.00 160.00 A6.30 6.30 0 0 1 520.00 147.40 Z" fill="#e0291d" stroke="#e0291d" stroke-width="0.3"/><circle cx="520.0" cy="153.7" r="6.3" fill="none" stroke="#222" stroke-width="0.7"/>
<circle cx="532.0" cy="165.6" r="4.5" fill="#a5d610" stroke="#222" stroke-width="0.7"/>
<circle cx="544.3" cy="174.3" r="4.5" fill="#a5d610" stroke="#222" stroke-width="0.7"/>
<circle cx="504.9" cy="177.6" r="4.5" fill="#c9c8c8" stroke="#222" stroke-width="0.7"/>
<circle cx="483.6" cy="178.8" r="1.0" fill="#e0291d" stroke="#222" stroke-width="0.7"/>
<circle cx="495.9" cy="196.5" r="4.5" fill="#ffab4a" stroke="#222" stroke-width="0.7"/>
<path d="M513.90 196.00 L513.90 187.20 A8.80 8.80 0 0 1 522.70 196.00 Z" fill="#8b3d16" stroke="#8b3d16" stroke-width="0.3"/><path d="M513.90 196.00 L522.70 196.00 A8.80 8.80 0 0 1 513.90 204.80 Z" fill="#97dcec" stroke="#97dcec" stroke-width="0.3"/><path d="M513.90 196.00 L513.90 204.80 A8.80 8.80 0 0 1 505.10 196.00 Z" fill="#4c7cc6" stroke="#4c7cc6" stroke-width="0.3"/><path d="M513.90 196.00 L505.10 196.00 A8.80 8.80 0 0 1 513.90 187.20 Z" fill="#0d8a3c" stroke="#0d8a3c" stroke-width="0.3"/><circle cx="513.9" cy="196.0" r="8.8" fill="none" stroke="#222" stroke-width="0.7"/>
<circle cx="536.0" cy="194.4" r="4.5" fill="#a5d610" stroke="#222" stroke-width="0.7"/>
<circle cx="471.5" cy="211.3" r="6.5" fill="#a5d610" stroke="#222" stroke-width="0.7"/>
<circle cx="502.3" cy="212.0" r="6.5" fill="#c9c8c8" stroke="#222" stroke-width="0.7"/>
<path d="M523.30 209.30 L516.50 205.90 A7.60 7.60 0 1 1 523.30 216.90 Z" fill="#a5d610" stroke="#a5d610" stroke-width="0.3"/><path d="M523.30 209.30 L523.30 216.90 A7.60 7.60 0 0 1 516.50 205.90 Z" fill="#e0291d" stroke="#e0291d" stroke-width="0.3"/><circle cx="523.3" cy="209.3" r="7.6" fill="none" stroke="#222" stroke-width="0.7"/>
<path d="M559.30 209.30 L559.30 203.00 A6.30 6.30 0 0 1 559.30 215.60 Z" fill="#a5d610" stroke="#a5d610" stroke-width="0.3"/><path d="M559.30 209.30 L559.30 215.60 A6.30 6.30 0 0 1 559.30 203.00 Z" fill="#e0291d" stroke="#e0291d" stroke-width="0.3"/><circle cx="559.3" cy="209.3" r="6.3" fill="none" stroke="#222" stroke-width="0.7"/>
<circle cx="584.3" cy="217.5" r="4.5" fill="#e0291d" stroke="#222" stroke-width="0.7"/>
<circle cx="607.2" cy="223.9" r="4.5" fill="#a5d610" stroke="#222" stroke-width="0.7"/>
<circle cx="434.7" cy="224.4" r="4.5" fill="#ffab4a" stroke="#222" stroke-width="0.7"/>
<circle cx="447.5" cy="237.7" r="4.5" fill="#e0291d" stroke="#222" stroke-width="0.7"/>
<path d="M512.30 235.70 L512.30 226.80 A8.90 8.90 0 0 1 521.20 235.70 Z" fill="#ffab4a" stroke="#ffab4a" stroke-width="0.3"/><path d="M512.30 235.70 L521.20 235.70 A8.90 8.90 0 0 1 512.30 244.60 Z" fill="#97dcec" stroke="#97dcec" stroke-width="0.3"/><path d="M512.30 235.70 L512.30 244.60 A8.90 8.90 0 0 1 512.30 226.80 Z" fill="#a5d610" stroke="#a5d610" stroke-width="0.3"/><circle cx="512.3" cy="235.7" r="8.9" fill="none" stroke="#222" stroke-width="0.7"/>
<circle cx="501.3" cy="260.0" r="4.5" fill="#a5d610" stroke="#222" stroke-width="0.7"/>
<circle cx="451.2" cy="294.1" r="4.3" fill="#c9c8c8" stroke="#222" stroke-width="0.7"/>
<circle cx="664.0" cy="248.5" r="4.5" fill="#97dcec" stroke="#222" stroke-width="0.7"/>
<circle cx="602.9" cy="268.3" r="4.5" fill="#e0291d" stroke="#222" stroke-width="0.7"/>
<circle cx="632.2" cy="284.1" r="4.5" fill="#8b3d16" stroke="#222" stroke-width="0.7"/>
<circle cx="662.2" cy="289.0" r="4.3" fill="#4c7cc6" stroke="#222" stroke-width="0.7"/>
<path d="M629.00 300.00 L623.79 291.82 A9.70 9.70 0 1 1 629.00 309.70 Z" fill="#ffab4a" stroke="#ffab4a" stroke-width="0.3"/><path d="M629.00 300.00 L629.00 309.70 A9.70 9.70 0 0 1 619.68 302.67 Z" fill="#e0291d" stroke="#e0291d" stroke-width="0.3"/><path d="M629.00 300.00 L619.68 302.67 A9.70 9.70 0 0 1 623.79 291.82 Z" fill="#8b3d16" stroke="#8b3d16" stroke-width="0.3"/><circle cx="629.0" cy="300.0" r="9.7" fill="none" stroke="#222" stroke-width="0.7"/>
<circle cx="641.6" cy="308.3" r="4.3" fill="#ffab4a" stroke="#222" stroke-width="0.7"/>
<path d="M597.70 311.70 L597.70 305.60 A6.10 6.10 0 0 1 597.70 317.80 Z" fill="#e0291d" stroke="#e0291d" stroke-width="0.3"/><path d="M597.70 311.70 L597.70 317.80 A6.10 6.10 0 0 1 597.70 305.60 Z" fill="#cb4ec0" stroke="#cb4ec0" stroke-width="0.3"/><circle cx="597.7" cy="311.7" r="6.1" fill="none" stroke="#222" stroke-width="0.7"/>
<circle cx="661.6" cy="317.0" r="9.0" fill="#ffab4a" stroke="#222" stroke-width="0.7"/>
<circle cx="686.3" cy="327.4" r="4.5" fill="#ffab4a" stroke="#222" stroke-width="0.7"/>
<path d="M627.40 336.20 L622.50 325.79 A11.50 11.50 0 1 1 627.40 347.70 Z" fill="#e0291d" stroke="#e0291d" stroke-width="0.3"/><path d="M627.40 336.20 L627.40 347.70 A11.50 11.50 0 0 1 615.97 334.90 Z" fill="#8b3d16" stroke="#8b3d16" stroke-width="0.3"/><path d="M627.40 336.20 L615.97 334.90 A11.50 11.50 0 0 1 622.50 325.79 Z" fill="#ffab4a" stroke="#ffab4a" stroke-width="0.3"/><circle cx="627.4" cy="336.2" r="11.5" fill="none" stroke="#222" stroke-width="0.7"/>
<path d="M594.70 345.30 L603.00 325.25 A21.70 21.70 0 0 1 594.70 367.00 Z" fill="#ffab4a" stroke="#ffab4a" stroke-width="0.3"/><path d="M594.70 345.30 L594.70 367.00 A21.70 21.70 0 0 1 583.33 363.78 Z" fill="#cb4ec0" stroke="#cb4ec0" stroke-width="0.3"/><path d="M594.70 345.30 L583.33 363.78 A21.70 21.70 0 0 1 573.04 343.94 Z" fill="#e0291d" stroke="#e0291d" stroke-width="0.3"/><path d="M594.70 345.30 L573.04 343.94 A21.70 21.70 0 0 1 573.86 339.25 Z" fill="#c9c8c8" stroke="#c9c8c8" stroke-width="0.3"/><path d="M594.70 345.30 L573.86 339.25 A21.70 21.70 0 0 1 586.15 325.35 Z" fill="#a5d610" stroke="#a5d610" stroke-width="0.3"/><path d="M594.70 345.30 L586.15 325.35 A21.70 21.70 0 0 1 603.00 325.25 Z" fill="#0d8a3c" stroke="#0d8a3c" stroke-width="0.3"/><circle cx="594.7" cy="345.3" r="21.7" fill="none" stroke="#222" stroke-width="0.7"/>
<circle cx="561.0" cy="334.7" r="4.5" fill="#a5d610" stroke="#222" stroke-width="0.7"/>
<circle cx="635.4" cy="362.3" r="4.5" fill="#8b3d16" stroke="#222" stroke-width="0.7"/>
<path d="M661.80 375.20 L653.19 379.21 A9.50 9.50 0 1 1 661.80 384.70 Z" fill="#ffab4a" stroke="#ffab4a" stroke-width="0.3"/><path d="M661.80 375.20 L661.80 384.70 A9.50 9.50 0 0 1 653.19 379.21 Z" fill="#8b3d16" stroke="#8b3d16" stroke-width="0.3"/><circle cx="661.8" cy="375.2" r="9.5" fill="none" stroke="#222" stroke-width="0.7"/>
<path d="M571.70 377.30 L564.99 373.94 A7.50 7.50 0 0 1 578.03 373.27 Z" fill="#e0291d" stroke="#e0291d" stroke-width="0.3"/><path d="M571.70 377.30 L578.03 373.27 A7.50 7.50 0 0 1 571.70 384.80 Z" fill="#97dcec" stroke="#97dcec" stroke-width="0.3"/><path d="M571.70 377.30 L571.70 384.80 A7.50 7.50 0 0 1 564.99 373.94 Z" fill="#cb4ec0" stroke="#cb4ec0" stroke-width="0.3"/><circle cx="571.7" cy="377.3" r="7.5" fill="none" stroke="#222" stroke-width="0.7"/>
<path d="M614.10 392.40 L614.10 386.20 A6.20 6.20 0 0 1 614.10 398.60 Z" fill="#4c7cc6" stroke="#4c7cc6" stroke-width="0.3"/><path d="M614.10 392.40 L614.10 398.60 A6.20 6.20 0 0 1 614.10 386.20 Z" fill="#e0291d" stroke="#e0291d" stroke-width="0.3"/><circle cx="614.1" cy="392.4" r="6.2" fill="none" stroke="#222" stroke-width="0.7"/>
<circle cx="559.0" cy="394.6" r="4.5" fill="#a5d610" stroke="#222" stroke-width="0.7"/>
<path d="M682.90 439.60 L669.42 441.42 A13.60 13.60 0 0 1 687.39 426.76 Z" fill="#e0291d" stroke="#e0291d" stroke-width="0.3"/><path d="M682.90 439.60 L687.39 426.76 A13.60 13.60 0 0 1 694.83 433.07 Z" fill="#4c7cc6" stroke="#4c7cc6" stroke-width="0.3"/><path d="M682.90 439.60 L694.83 433.07 A13.60 13.60 0 0 1 682.90 453.20 Z" fill="#cb4ec0" stroke="#cb4ec0" stroke-width="0.3"/><path d="M682.90 439.60 L682.90 453.20 A13.60 13.60 0 0 1 669.42 441.42 Z" fill="#a5d610" stroke="#a5d610" stroke-width="0.3"/><circle cx="682.9" cy="439.6" r="13.6" fill="none" stroke="#222" stroke-width="0.7"/>
<circle cx="706.7" cy="441.7" r="4.3" fill="#a5d610" stroke="#222" stroke-width="0.7"/>
<circle cx="682.4" cy="462.9" r="1.0" fill="#e0291d" stroke="#222" stroke-width="0.7"/>
<circle cx="702.0" cy="472.0" r="4.3" fill="#a5d610" stroke="#222" stroke-width="0.7"/>
<circle cx="702.4" cy="499.6" r="4.3" fill="#ffab4a" stroke="#222" stroke-width="0.7"/>
<line x1="629.0" y1="228.5" x2="648.7" y2="235.2" stroke="#111" stroke-width="1.5"/><polygon points="652.5,236.5 647.0,237.1 648.5,232.7" fill="#111"/>
<line x1="614.3" y1="357.3" x2="624.6" y2="361.6" stroke="#111" stroke-width="1.5"/><polygon points="628.3,363.1 622.8,363.3 624.6,359.1" fill="#111"/>
<line x1="588.1" y1="381.1" x2="603.9" y2="386.7" stroke="#111" stroke-width="1.5"/><polygon points="607.7,388.0 602.2,388.5 603.7,384.2" fill="#111"/>
<line x1="662.0" y1="397.3" x2="672.3" y2="414.6" stroke="#111" stroke-width="1.5"/><polygon points="674.4,418.0 669.9,414.9 673.8,412.5" fill="#111"/>
<text x="646.0" y="227.2" font-size="8.80" font-weight="bold" fill="#111" text-anchor="start" >rs751613702</text>
<text x="673.3" y="408.7" font-size="8.80" font-weight="bold" fill="#111" text-anchor="start" >rs760148062</text>
<text x="572.0" y="395.5" font-size="8.80" font-weight="bold" fill="#111" text-anchor="start" transform="rotate(17.6 572.0 395.5)" >rs751613702</text>
<text x="674.3" y="314.2" font-size="8.10"  fill="#222" text-anchor="start" transform="rotate(-19.8 674.3 314.2)" >22-21-14-23-10-11-13</text>
<text x="675.4" y="375.4" font-size="8.10"  fill="#222" text-anchor="start" transform="rotate(-19.3 675.4 375.4)" >22-22-14-23-10-11-13</text>
<text x="495.4" y="382.6" font-size="8.10"  fill="#222" text-anchor="start" transform="rotate(-18.6 495.4 382.6)" >22-22-14-23-10-11-12</text>
<text x="593.3" y="473.3" font-size="8.10"  fill="#222" text-anchor="start" transform="rotate(-17.8 593.3 473.3)" >22-22-14-23-10-11-12</text>
<line x1="484.8" y1="867.3" x2="522.5" y2="884.1" stroke="#a2a2a2" stroke-width="0.6"/>
<line x1="534.8" y1="849.7" x2="522.5" y2="884.1" stroke="#a2a2a2" stroke-width="0.6"/>
<line x1="522.5" y1="884.1" x2="549.1" y2="917.2" stroke="#a2a2a2" stroke-width="0.6"/>
<line x1="549.1" y1="917.2" x2="560.3" y2="927.6" stroke="#a2a2a2" stroke-width="0.6"/>
<line x1="549.1" y1="917.2" x2="603.1" y2="878.1" stroke="#a2a2a2" stroke-width="0.6"/>
<line x1="603.1" y1="878.1" x2="603.1" y2="840.4" stroke="#a2a2a2" stroke-width="0.6"/>
<line x1="603.1" y1="878.1" x2="584.5" y2="858.3" stroke="#a2a2a2" stroke-width="0.6"/>
<line x1="603.1" y1="878.1" x2="629.6" y2="848.6" stroke="#a2a2a2" stroke-width="0.6"/>
<line x1="629.6" y1="848.6" x2="665.1" y2="844.9" stroke="#a2a2a2" stroke-width="0.6"/>
<line x1="665.1" y1="844.9" x2="642.7" y2="875.5" stroke="#a2a2a2" stroke-width="0.6"/>
<line x1="603.1" y1="878.1" x2="642.7" y2="875.5" stroke="#a2a2a2" stroke-width="0.6"/>
<line x1="642.7" y1="875.5" x2="681.5" y2="875.1" stroke="#a2a2a2" stroke-width="0.6"/>
<line x1="603.1" y1="878.1" x2="620.3" y2="907.6" stroke="#a2a2a2" stroke-width="0.6"/>
<line x1="549.1" y1="917.2" x2="497.2" y2="973.6" stroke="#a2a2a2" stroke-width="0.6"/>
<line x1="497.2" y1="973.6" x2="492.5" y2="949.3" stroke="#a2a2a2" stroke-width="0.6"/>
<line x1="497.2" y1="973.6" x2="462.9" y2="965.7" stroke="#a2a2a2" stroke-width="0.6"/>
<line x1="462.9" y1="965.7" x2="449.1" y2="997.5" stroke="#a2a2a2" stroke-width="0.6"/>
<line x1="449.1" y1="997.5" x2="481.6" y2="1006.3" stroke="#a2a2a2" stroke-width="0.6"/>
<line x1="481.6" y1="1006.3" x2="497.2" y2="973.6" stroke="#a2a2a2" stroke-width="0.6"/>
<line x1="497.2" y1="973.6" x2="517.1" y2="991.6" stroke="#a2a2a2" stroke-width="0.6"/>
<line x1="517.1" y1="991.6" x2="542.9" y2="1003.9" stroke="#a2a2a2" stroke-width="0.6"/>
<line x1="517.1" y1="991.6" x2="505.9" y2="1049.5" stroke="#a2a2a2" stroke-width="0.6"/>
<circle cx="484.8" cy="867.3" r="3.0" fill="#8fd8ea" stroke="#777" stroke-width="0.5"/>
<circle cx="534.8" cy="849.7" r="4.0" fill="#a9db58" stroke="#777" stroke-width="0.5"/>
<circle cx="522.5" cy="884.1" r="5.0" fill="#a9db58" stroke="#777" stroke-width="0.5"/>
<circle cx="549.1" cy="917.2" r="3.0" fill="#8fd8ea" stroke="#777" stroke-width="0.5"/>
<circle cx="560.3" cy="927.6" r="3.0" fill="#a9db58" stroke="#777" stroke-width="0.5"/>
<path d="M603.10 840.40 L607.43 837.90 A5.00 5.00 0 0 1 601.39 845.10 Z" fill="#8fd8ea" stroke="#8fd8ea" stroke-width="0.3"/><path d="M603.10 840.40 L601.39 845.10 A5.00 5.00 0 1 1 607.43 837.90 Z" fill="#e02a1e" stroke="#e02a1e" stroke-width="0.3"/><circle cx="603.1" cy="840.4" r="5.0" fill="none" stroke="#777" stroke-width="0.5"/>
<circle cx="584.5" cy="858.3" r="2.7" fill="#e02a1e" stroke="#777" stroke-width="0.5"/>
<circle cx="629.6" cy="848.6" r="4.0" fill="#e02a1e" stroke="#777" stroke-width="0.5"/>
<circle cx="665.1" cy="844.9" r="2.7" fill="#a9db58" stroke="#777" stroke-width="0.5"/>
<circle cx="642.7" cy="875.5" r="2.7" fill="#e02a1e" stroke="#777" stroke-width="0.5"/>
<circle cx="681.5" cy="875.1" r="2.7" fill="#a9db58" stroke="#777" stroke-width="0.5"/>
<path d="M603.10 878.10 L609.50 876.97 A6.50 6.50 0 0 1 606.35 883.73 Z" fill="#e02a1e" stroke="#e02a1e" stroke-width="0.3"/><path d="M603.10 878.10 L606.35 883.73 A6.50 6.50 0 1 1 609.50 876.97 Z" fill="#a9db58" stroke="#a9db58" stroke-width="0.3"/><circle cx="603.1" cy="878.1" r="6.5" fill="none" stroke="#777" stroke-width="0.5"/>
<circle cx="620.3" cy="907.6" r="2.7" fill="#e02a1e" stroke="#777" stroke-width="0.5"/>
<circle cx="492.5" cy="949.3" r="2.8" fill="#a8d80c" stroke="#777" stroke-width="0.5"/>
<circle cx="462.9" cy="965.7" r="2.7" fill="#e02a1e" stroke="#777" stroke-width="0.5"/>
<path d="M497.20 973.60 L503.18 970.81 A6.60 6.60 0 0 1 502.61 977.39 Z" fill="#cc55c4" stroke="#cc55c4" stroke-width="0.3"/><path d="M497.20 973.60 L502.61 977.39 A6.60 6.60 0 0 1 495.83 980.06 Z" fill="#8fd8ea" stroke="#8fd8ea" stroke-width="0.3"/><path d="M497.20 973.60 L495.83 980.06 A6.60 6.60 0 1 1 503.18 970.81 Z" fill="#a8d80c" stroke="#a8d80c" stroke-width="0.3"/><circle cx="497.2" cy="973.6" r="6.6" fill="none" stroke="#777" stroke-width="0.5"/>
<circle cx="517.1" cy="991.6" r="2.9" fill="#168a44" stroke="#777" stroke-width="0.5"/>
<circle cx="449.1" cy="997.5" r="2.9" fill="#a8d80c" stroke="#777" stroke-width="0.5"/>
<circle cx="481.6" cy="1006.3" r="2.9" fill="#a8d80c" stroke="#777" stroke-width="0.5"/>
<circle cx="542.9" cy="1003.9" r="2.9" fill="#a8d80c" stroke="#777" stroke-width="0.5"/>
<circle cx="505.9" cy="1049.5" r="2.9" fill="#a8d80c" stroke="#777" stroke-width="0.5"/>
<line x1="536.3" y1="906.9" x2="530.0" y2="899.6" stroke="#111" stroke-width="1.9"/><polygon points="528.0,897.3 532.7,898.5 528.5,902.2" fill="#111"/>
<line x1="574.2" y1="905.3" x2="584.3" y2="898.0" stroke="#111" stroke-width="1.9"/><polygon points="586.7,896.2 585.1,900.8 581.8,896.3" fill="#111"/>
<line x1="535.8" y1="940.7" x2="528.6" y2="948.1" stroke="#111" stroke-width="1.9"/><polygon points="526.5,950.3 527.3,945.5 531.3,949.4" fill="#111"/>
<text x="487.7" y="919.8" font-size="8.80" font-weight="bold" fill="#111" text-anchor="start" >rs775512766</text>
<text x="580.3" y="911.3" font-size="8.80" font-weight="bold" fill="#111" text-anchor="start" transform="rotate(48.0 580.3 911.3)" >rs781395358</text>
<text x="532.3" y="954.5" font-size="8.80" font-weight="bold" fill="#111" text-anchor="start" transform="rotate(48.0 532.3 954.5)" >rs773856887</text>
<text x="542.3" y="851.3" font-size="8.25"  fill="#222" text-anchor="start" transform="rotate(-29.7 542.3 851.3)" >22-19-15-25-9-11-12</text>
<text x="610.8" y="841.2" font-size="8.25"  fill="#222" text-anchor="start" transform="rotate(-30.0 610.8 841.2)" >22-19-16-23-9-11-12</text>
<text x="633.2" y="847.6" font-size="8.25"  fill="#222" text-anchor="start" transform="rotate(-29.7 633.2 847.6)" >22-19-15-24-9-11-12</text>
<text x="611.0" y="885.5" font-size="8.10"  fill="#222" text-anchor="start" transform="rotate(25.0 611.0 885.5)" >22-19-15-23-9-11-12</text>
<text x="446.5" y="914.5" font-size="8.10"  fill="#222" text-anchor="start" transform="rotate(-18.3 446.5 914.5)" >22-19-15-23-9-11-12</text>
<text x="425.0" y="930.2" font-size="8.10"  fill="#222" text-anchor="start" transform="rotate(31.1 425.0 930.2)" >22-19-15-23-9-11-12</text>
<text x="687.9" y="34.7" font-size="34.50" font-weight="bold" fill="#111" text-anchor="start" >A</text>
<text x="688.3" y="614.2" font-size="34.50" font-weight="bold" fill="#111" text-anchor="start" >B</text>
</svg></body></html>
